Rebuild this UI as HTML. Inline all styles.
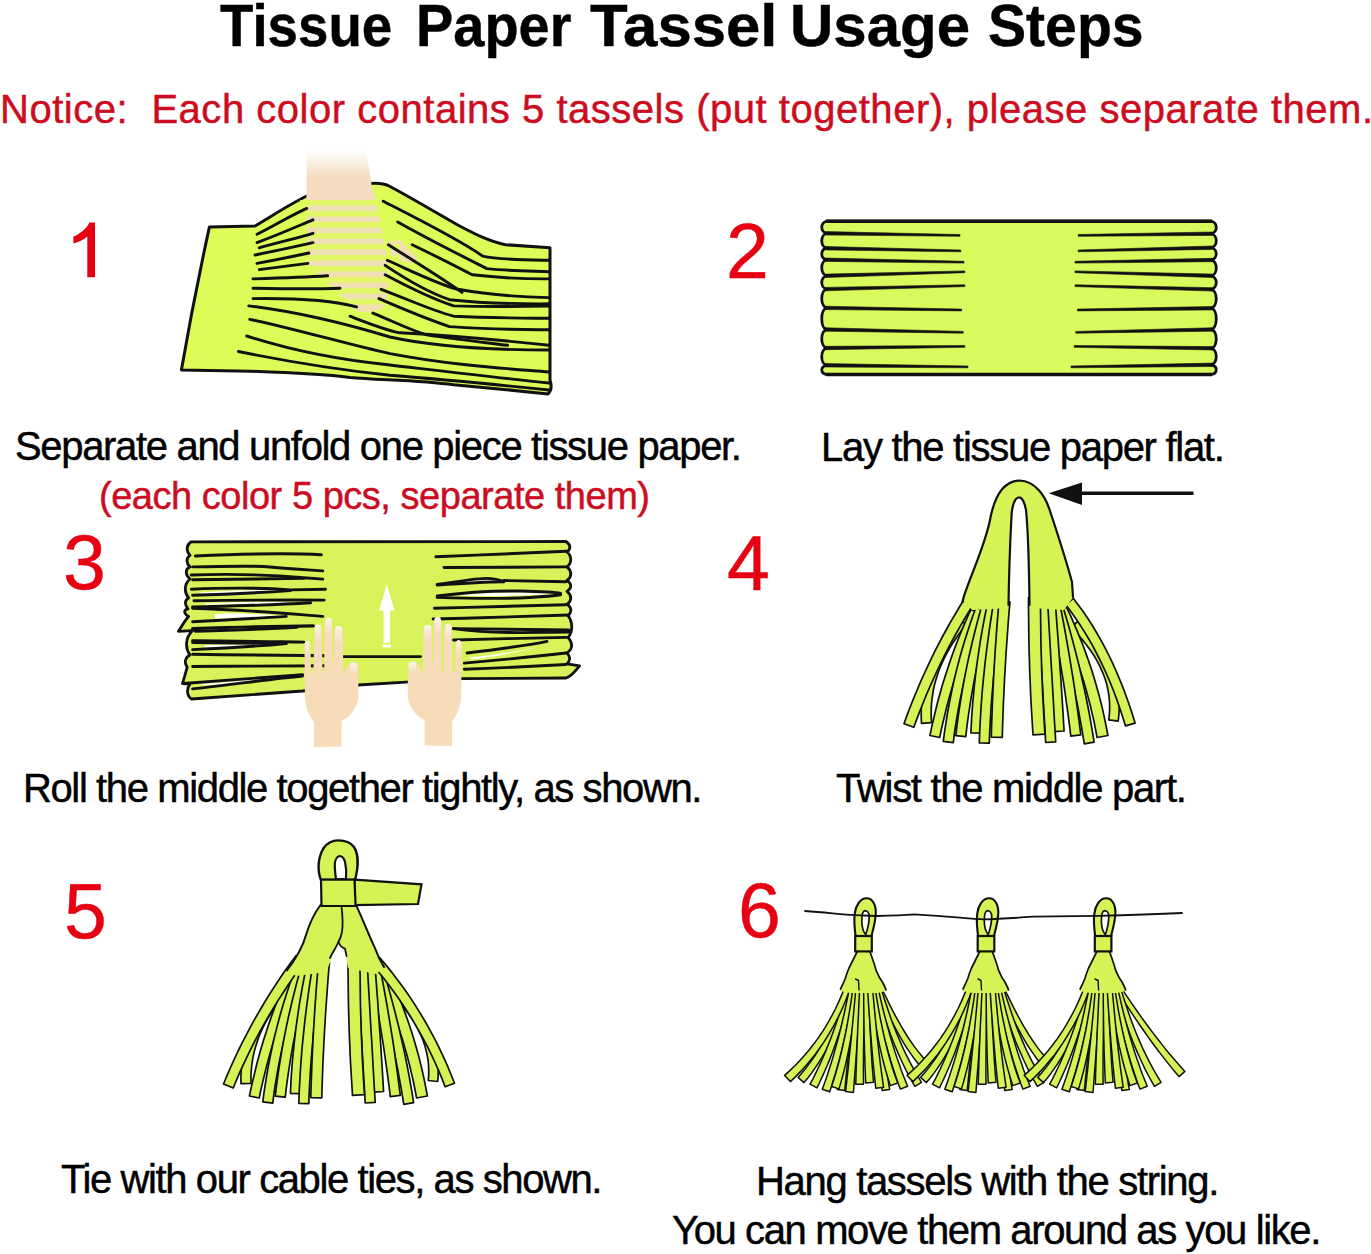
<!DOCTYPE html>
<html><head><meta charset="utf-8"><style>
html,body{margin:0;padding:0;background:#fff;}
body{width:1371px;height:1254px;position:relative;overflow:hidden;font-family:"Liberation Sans",sans-serif;}
.t{position:absolute;white-space:nowrap;line-height:1;-webkit-text-stroke:0.45px currentColor;}
svg{position:absolute;left:0;top:0;}
</style></head><body>
<svg width="1371" height="1254" viewBox="0 0 1371 1254">
<defs><linearGradient id="fg" x1="0" y1="0" x2="0" y2="1"><stop offset="0" stop-color="#f4dcc0" stop-opacity="0"/><stop offset="0.55" stop-color="#f4dcc0" stop-opacity="1"/><stop offset="1" stop-color="#f4dcc0" stop-opacity="1"/></linearGradient></defs>

<path d="M209.4,227.1 L255,226 C272,216 290,204 306.8,196 L371,183.5 C378,183 385,184 389,186 C410,197 440,215 457.8,225 C475,234 490,242 505.5,244.7 L550,247.8 L550,380 C552,386 551,391 548,394 C520,391 480,387 453.7,384.7 C420,380 380,380 350,377.4 C330,375 300,373 250.9,371.2 L181.4,370.1 C190,320 200,270 209.4,227.1 Z" fill="#defc58"/>
<path d="M371,183.5 C378,183 385,184 389,186 C410,197 440,215 457.8,225 C475,234 490,242 505.5,244.7 L550,247.8 L550,380 C552,386 551,391 548,394 C520,391 480,387 453.7,384.7 C420,380 380,380 350,377.4 C330,375 300,373 250.9,371.2 L181.4,370.1 C190,320 200,270 209.4,227.1 L255,226 C272,216 290,204 306.8,196" fill="none" stroke="#111" stroke-width="3" stroke-linejoin="round" stroke-linecap="round"/>
<path d="M306.8,196 L371,184 L376,200 L384,240 L388,262 C390,275 389,295 385,306 C378,312 364,313 356,311 C345,298 330,285 316,272 L306.8,262 Z" fill="#f2dcbc" opacity="0.9"/>
<path d="M306.5 150 L366 150 L371.5 184 L371 200 L306.5 200 Z" fill="url(#fg)"/>
<path d="M387,242 L400,240 L418,259 L410,263 L392,258 Z" fill="#f2dcbc" opacity="0.9"/>
<rect x="300" y="200" width="100" height="5.5" fill="#defc58" opacity="0.85"/>
<rect x="300" y="211" width="100" height="5.5" fill="#defc58" opacity="0.85"/>
<rect x="300" y="222" width="100" height="5.5" fill="#defc58" opacity="0.85"/>
<rect x="300" y="233" width="100" height="5.5" fill="#defc58" opacity="0.85"/>
<rect x="300" y="244" width="100" height="5.5" fill="#defc58" opacity="0.85"/>
<rect x="300" y="255" width="100" height="5.5" fill="#defc58" opacity="0.85"/>
<rect x="300" y="266" width="100" height="5.5" fill="#defc58" opacity="0.85"/>
<rect x="300" y="277" width="100" height="5.5" fill="#defc58" opacity="0.85"/>
<rect x="300" y="288" width="100" height="5.5" fill="#defc58" opacity="0.85"/>
<rect x="300" y="299" width="100" height="5.5" fill="#defc58" opacity="0.85"/>
<path d="M257,234.3 C275,225 292,215 306.8,208.4" fill="none" stroke="#111" stroke-width="2.9" stroke-linecap="round"/>
<path d="M257,242.6 C280,234 298,226 313,219.8" fill="none" stroke="#111" stroke-width="2.9" stroke-linecap="round"/>
<path d="M259.2,247.8 C280,242 298,238 313,233.3" fill="none" stroke="#111" stroke-width="2.9" stroke-linecap="round"/>
<path d="M255,255 C280,250 298,246 313,242.6" fill="none" stroke="#111" stroke-width="2.9" stroke-linecap="round"/>
<path d="M257,263.4 C280,259 295,256 308.9,253" fill="none" stroke="#111" stroke-width="2.9" stroke-linecap="round"/>
<path d="M259.2,269.6 C280,267 295,265 307.9,263.4" fill="none" stroke="#111" stroke-width="2.9" stroke-linecap="round"/>
<path d="M253,278.9 C285,278 310,277 327.6,275.8" fill="none" stroke="#111" stroke-width="2.9" stroke-linecap="round"/>
<path d="M253,288.2 C290,289 320,289 340,288.2" fill="none" stroke="#111" stroke-width="2.9" stroke-linecap="round"/>
<path d="M253,298.6 C300,298 335,301 356.6,306.9" fill="none" stroke="#111" stroke-width="2.9" stroke-linecap="round"/>
<path d="M248.8,305.9 C300,312 350,325 390,337 C440,348 500,350 549,350" fill="none" stroke="#111" stroke-width="2.9" stroke-linecap="round"/>
<path d="M249.8,319.3 C300,330 350,345 390,353.6 C450,365 500,368 549,372" fill="none" stroke="#111" stroke-width="2.9" stroke-linecap="round"/>
<path d="M246.7,336 C290,350 340,360 390,365 C450,372 500,378 549,383" fill="none" stroke="#111" stroke-width="2.9" stroke-linecap="round"/>
<path d="M238.4,351.5 C290,362 340,370 390,375.3 C450,380 500,385 549,390" fill="none" stroke="#111" stroke-width="2.9" stroke-linecap="round"/>
<path d="M383.2,201.2 C420,220 460,240 482.7,256.1 C500,260 530,260 549,260.3" fill="none" stroke="#111" stroke-width="2.9" stroke-linecap="round"/>
<path d="M397.7,221.9 C430,240 460,255 486.8,268.6 C510,271 530,271 549,271.7" fill="none" stroke="#111" stroke-width="2.9" stroke-linecap="round"/>
<path d="M412.2,244.7 C440,258 455,266 472.3,274.8 C500,278 530,279 549,278.9" fill="none" stroke="#111" stroke-width="2.9" stroke-linecap="round"/>
<path d="M388.4,244.7 C420,265 445,280 462,292.4" fill="none" stroke="#111" stroke-width="2.9" stroke-linecap="round"/>
<path d="M387.3,260.3 C420,275 440,285 457.8,289.3 C490,295 520,297 549,297.6" fill="none" stroke="#111" stroke-width="2.9" stroke-linecap="round"/>
<path d="M385.2,265.4 C410,282 430,293 449.5,299.7 C490,304 520,304 549,303.8" fill="none" stroke="#111" stroke-width="2.9" stroke-linecap="round"/>
<path d="M385.2,274.8 C410,288 435,300 453.7,305.9 C490,307 520,306.5 549,306" fill="none" stroke="#111" stroke-width="2.9" stroke-linecap="round"/>
<path d="M381.1,289.3 C410,300 430,310 453.7,316.2 C490,318 520,318 549,318.3" fill="none" stroke="#111" stroke-width="2.9" stroke-linecap="round"/>
<path d="M379,298.6 C410,312 430,320 449.5,326.6 C490,329 520,330 549,329.7" fill="none" stroke="#111" stroke-width="2.9" stroke-linecap="round"/>
<path d="M372.8,313.1 C395,322 410,330 426.7,334.9 C460,340 490,343 507.6,345.3" fill="none" stroke="#111" stroke-width="2.9" stroke-linecap="round"/>
<path d="M350,316.2 C365,322 385,330 399.8,332.8 C440,335 500,340 549,345.3" fill="none" stroke="#111" stroke-width="2.9" stroke-linecap="round"/>
<path d="M827,221.2 L1211,221.2 C1218,222.2 1218,232.7 1211,233.7 C1218,234.7 1218,246.7 1211,247.7 C1218,248.7 1218,259.0 1211,260.0 C1218,261.0 1218,274.8 1211,275.8 C1218,276.8 1218,288.4 1211,289.4 C1218,290.4 1218,307.2 1211,308.2 C1218,309.2 1218,328.5 1211,329.5 C1218,330.5 1218,347.3 1211,348.3 C1218,349.3 1218,363.8 1211,364.8 C1218,365.8 1218,373.5 1211,374.5 L827,374.5 C820,373.5 820,366.3 827,365.3 C820,364.3 820,349.0 827,348.0 C820,347.0 820,330.5 827,329.5 C820,328.5 820,308.9 827,307.9 C820,306.9 820,290.1 827,289.1 C820,288.1 820,276.8 827,275.8 C820,274.8 820,260.7 827,259.7 C820,258.7 820,249.2 827,248.2 C820,247.2 820,234.3 827,233.3 C820,232.3 820,222.2 827,221.2 Z" fill="#d9fa5c" stroke="#111" stroke-width="2.8" stroke-linejoin="round"/>
<path d="M826.0,235.0 L960.0,236.3 L960.0,234.5 L826.0,231.6 Z" fill="#111" stroke="#111" stroke-width="0.6" stroke-linejoin="round"/>
<path d="M826.0,249.9 L960.8,251.8 L960.8,250.0 L826.0,246.5 Z" fill="#111" stroke="#111" stroke-width="0.6" stroke-linejoin="round"/>
<path d="M826.0,261.4 L964.0,263.1 L964.0,261.3 L826.0,258.0 Z" fill="#111" stroke="#111" stroke-width="0.6" stroke-linejoin="round"/>
<path d="M826.0,277.5 L964.8,272.7 L964.8,270.9 L826.0,274.1 Z" fill="#111" stroke="#111" stroke-width="0.6" stroke-linejoin="round"/>
<path d="M826.0,290.8 L964.8,286.6 L964.8,284.8 L826.0,287.4 Z" fill="#111" stroke="#111" stroke-width="0.6" stroke-linejoin="round"/>
<path d="M826.0,309.6 L961.6,310.9 L961.6,309.1 L826.0,306.2 Z" fill="#111" stroke="#111" stroke-width="0.6" stroke-linejoin="round"/>
<path d="M826.0,331.2 L963.2,333.2 L963.2,331.4 L826.0,327.8 Z" fill="#111" stroke="#111" stroke-width="0.6" stroke-linejoin="round"/>
<path d="M826.0,349.7 L964.8,347.3 L964.8,345.5 L826.0,346.3 Z" fill="#111" stroke="#111" stroke-width="0.6" stroke-linejoin="round"/>
<path d="M826.0,367.0 L968.0,367.8 L968.0,366.0 L826.0,363.6 Z" fill="#111" stroke="#111" stroke-width="0.6" stroke-linejoin="round"/>
<path d="M1212.0,232.0 L1078.2,234.5 L1078.2,236.3 L1212.0,235.4 Z" fill="#111" stroke="#111" stroke-width="0.6" stroke-linejoin="round"/>
<path d="M1212.0,246.0 L1078.2,250.0 L1078.2,251.8 L1212.0,249.4 Z" fill="#111" stroke="#111" stroke-width="0.6" stroke-linejoin="round"/>
<path d="M1212.0,258.3 L1075.0,261.3 L1075.0,263.1 L1212.0,261.7 Z" fill="#111" stroke="#111" stroke-width="0.6" stroke-linejoin="round"/>
<path d="M1212.0,274.1 L1075.0,270.9 L1075.0,272.7 L1212.0,277.5 Z" fill="#111" stroke="#111" stroke-width="0.6" stroke-linejoin="round"/>
<path d="M1212.0,287.7 L1075.0,284.8 L1075.0,286.6 L1212.0,291.1 Z" fill="#111" stroke="#111" stroke-width="0.6" stroke-linejoin="round"/>
<path d="M1212.0,306.5 L1077.4,309.1 L1077.4,310.9 L1212.0,309.9 Z" fill="#111" stroke="#111" stroke-width="0.6" stroke-linejoin="round"/>
<path d="M1212.0,327.8 L1075.8,331.4 L1075.8,333.2 L1212.0,331.2 Z" fill="#111" stroke="#111" stroke-width="0.6" stroke-linejoin="round"/>
<path d="M1212.0,346.6 L1074.2,345.5 L1074.2,347.3 L1212.0,350.0 Z" fill="#111" stroke="#111" stroke-width="0.6" stroke-linejoin="round"/>
<path d="M1212.0,363.1 L1071.0,366.0 L1071.0,367.8 L1212.0,366.5 Z" fill="#111" stroke="#111" stroke-width="0.6" stroke-linejoin="round"/>
<path d="M826,221.2 L1212,221.2 M826,374.5 L1212,374.5" stroke="#111" stroke-width="3.6"/><defs><linearGradient id="tipg" x1="0" y1="0" x2="0" y2="1"><stop offset="0" stop-color="#fff" stop-opacity="0.7"/><stop offset="1" stop-color="#fff" stop-opacity="0"/></linearGradient></defs>
<path d="M191.3,541.8 L566,541.5 C571,545 571,549 567,552 C572,556 572,563 567,566.9 C572,571 572,577 567,580.4 C572,584 572,588 567,591.3 C572,595 572,601 567,604.2 C572,608 572,612 568,615.7 C573,622 573,632 568,637.4 C573,643 573,649 567,653 C571,657 570,661 567,663.8 L579.6,665.8 C576,670 572,676 566,678 L461.6,678.7 L405.9,682.2 L358,685 L302.5,691 L191.3,699 C186,695 187,688 189.9,684.2 L182.5,683.5 C184,678 186,672 187.2,667.2 C184,663 185,657 190,655 C185,648 185,638 192.6,630.6 L178.4,631.3 C182,626 185,620 188.6,616.4 C184,614 183,610 188,608.9 C184,604 185,600 188.6,598 C184,592 184,584 190,579 C185,575 185,569 190,566.9 C186,563 186,558 190,555.3 C186,551 186,545 191.3,541.8 Z" fill="#d8f25a" stroke="#111" stroke-width="2.8" stroke-linejoin="round"/>
<path d="M195.3,556 C240,554 290,553 321.4,554.7" fill="none" stroke="#111" stroke-width="2.9" stroke-linecap="round" stroke-linejoin="round"/>
<path d="M192.6,566.9 C230,566 260,566 270,567 C290,569 310,570 322.8,570.9" fill="none" stroke="#111" stroke-width="2.9" stroke-linecap="round" stroke-linejoin="round"/>
<path d="M191.3,575 C220,574 256,573.6 303.8,577.7 L322.8,579.1" fill="none" stroke="#111" stroke-width="2.9" stroke-linecap="round" stroke-linejoin="round"/>
<path d="M192.6,579.7 C240,579 280,578.8 303.8,578.4" fill="none" stroke="#111" stroke-width="2.9" stroke-linecap="round" stroke-linejoin="round"/>
<path d="M200,592.5 C240,590 270,589.5 288,590.3 C270,592 240,593.5 200,593.8 Z" fill="#ffffff" stroke="none"/>
<path d="M191.3,589.2 C220,588 256,587.2 290.3,589.9 L325.5,589.2" fill="none" stroke="#111" stroke-width="2.9" stroke-linecap="round" stroke-linejoin="round"/>
<path d="M192.6,595.3 C240,594 270,592 290.3,590.6" fill="none" stroke="#111" stroke-width="2.9" stroke-linecap="round" stroke-linejoin="round"/>
<path d="M205,603.5 C240,602 280,601.5 305,602 C270,603.5 240,604.5 205,604.8 Z" fill="#ffffff" stroke="none"/>
<path d="M194,600.8 C240,600 290,600 324.2,600.1" fill="none" stroke="#111" stroke-width="2.9" stroke-linecap="round" stroke-linejoin="round"/>
<path d="M192.6,606.9 C230,606 270,605.5 310.6,602.8" fill="none" stroke="#111" stroke-width="2.9" stroke-linecap="round" stroke-linejoin="round"/>
<path d="M215,614 C240,613 265,614 283,616 C260,617.5 240,618.5 215,618.5 Z" fill="#ffffff" stroke="none"/>
<path d="M192.6,608.2 C220,609 256,610.9 322.8,616.4" fill="none" stroke="#111" stroke-width="2.9" stroke-linecap="round" stroke-linejoin="round"/>
<path d="M192.6,621.8 C230,620 260,618 286.2,616.4" fill="none" stroke="#111" stroke-width="2.9" stroke-linecap="round" stroke-linejoin="round"/>
<path d="M192.6,628.6 C240,627 290,626 313.3,625.8" fill="none" stroke="#111" stroke-width="3.2" stroke-linecap="round" stroke-linejoin="round"/>
<path d="M195.3,631.3 C240,630 270,629 297,627.2" fill="none" stroke="#111" stroke-width="2.9" stroke-linecap="round" stroke-linejoin="round"/>
<path d="M192.6,640.8 C240,641 290,642 303.8,642.1" fill="none" stroke="#111" stroke-width="2.9" stroke-linecap="round" stroke-linejoin="round"/>
<path d="M205,645 C240,644.5 265,644.5 282,644 C260,646 240,647 205,647.5 Z" fill="#ffffff" stroke="none"/>
<path d="M192.6,642.5 C230,643 260,643 286.2,643.5" fill="none" stroke="#111" stroke-width="2.9" stroke-linecap="round" stroke-linejoin="round"/>
<path d="M192.6,649.6 C230,648 260,646 286.2,643.5" fill="none" stroke="#111" stroke-width="2.9" stroke-linecap="round" stroke-linejoin="round"/>
<path d="M192.6,654.3 C240,655 290,655.5 330,655.7" fill="none" stroke="#111" stroke-width="2.9" stroke-linecap="round" stroke-linejoin="round"/>
<path d="M192.6,666.5 C240,666 290,666 330,665.8" fill="none" stroke="#111" stroke-width="2.9" stroke-linecap="round" stroke-linejoin="round"/>
<path d="M200,684 C240,681 270,678 298,676 C270,679.5 240,682.5 205,685.5 Z" fill="#ffffff" stroke="none"/>
<path d="M183.1,683.5 C230,680 270,677 302.5,674.7" fill="none" stroke="#111" stroke-width="2.9" stroke-linecap="round" stroke-linejoin="round"/>
<path d="M192.6,688.9 C230,685 270,679 302.5,676" fill="none" stroke="#111" stroke-width="2.9" stroke-linecap="round" stroke-linejoin="round"/>
<path d="M342,656.6 L420.5,656.6" fill="none" stroke="#111" stroke-width="2.9" stroke-linecap="round" stroke-linejoin="round"/>
<path d="M435.8,556.7 C480,555 530,553 566,551.3" fill="none" stroke="#111" stroke-width="2.9" stroke-linecap="round" stroke-linejoin="round"/>
<path d="M444,567.5 C480,567.4 530,567.2 566,566.9" fill="none" stroke="#111" stroke-width="2.9" stroke-linecap="round" stroke-linejoin="round"/>
<path d="M450,582.5 C470,580 490,579.5 500,580.8 C485,581.5 465,582.5 450,583.2 Z" fill="#ffffff" stroke="none"/>
<path d="M437.2,584.5 C460,581 480,578.4 486,578.4 C495,578.4 500,580 503.6,581.8" fill="none" stroke="#111" stroke-width="2.9" stroke-linecap="round" stroke-linejoin="round"/>
<path d="M437.2,585 C460,583.5 490,582 503.6,581.8" fill="none" stroke="#111" stroke-width="2.9" stroke-linecap="round" stroke-linejoin="round"/>
<path d="M503.6,580.5 C530,581 550,581.5 566,581.8" fill="none" stroke="#111" stroke-width="2.9" stroke-linecap="round" stroke-linejoin="round"/>
<path d="M460,594.5 C490,592 530,592 556,593.8 C530,595.5 490,596.5 460,595.5 Z" fill="#ffffff" stroke="none"/>
<path d="M437.2,596 C460,593 492.8,590.6 520,591 C540,591.5 555,592 560.6,593.3" fill="none" stroke="#111" stroke-width="2.9" stroke-linecap="round" stroke-linejoin="round"/>
<path d="M437.2,597.4 C470,598.5 506.4,598.7 530,597.5 C545,596.5 555,595.5 560.6,594.7" fill="none" stroke="#111" stroke-width="2.9" stroke-linecap="round" stroke-linejoin="round"/>
<path d="M434.5,608.2 C480,607 530,606 566,604.8" fill="none" stroke="#111" stroke-width="2.9" stroke-linecap="round" stroke-linejoin="round"/>
<path d="M433.1,619 C480,618 530,616.5 568.7,615" fill="none" stroke="#111" stroke-width="2.9" stroke-linecap="round" stroke-linejoin="round"/>
<path d="M480,630 C510,630.5 540,630.8 565,631 C540,631.3 510,631.5 480,631 Z" fill="#ffffff" stroke="none"/>
<path d="M453.5,628.6 C500,629 540,629.5 568.7,630" fill="none" stroke="#111" stroke-width="2.9" stroke-linecap="round" stroke-linejoin="round"/>
<path d="M453.5,628.6 C470,631 492.8,632.6 520,632.6 C540,632.5 560,632.2 568.7,632" fill="none" stroke="#111" stroke-width="2.9" stroke-linecap="round" stroke-linejoin="round"/>
<path d="M453.5,640 C490,639 530,638 566,637.4" fill="none" stroke="#111" stroke-width="2.9" stroke-linecap="round" stroke-linejoin="round"/>
<path d="M470,657.5 C500,654 525,650.5 540,646 C520,652 495,657 470,659.5 Z" fill="#ffffff" stroke="none"/>
<path d="M467,653 C500,649 530,645 547,641.4" fill="none" stroke="#111" stroke-width="2.9" stroke-linecap="round" stroke-linejoin="round"/>
<path d="M464.3,663.1 C500,660 540,656 566,653" fill="none" stroke="#111" stroke-width="2.9" stroke-linecap="round" stroke-linejoin="round"/>
<path d="M464.3,669.2 C500,668 540,666 566,664.5" fill="none" stroke="#111" stroke-width="2.9" stroke-linecap="round" stroke-linejoin="round"/>
<g>
<path d="M314,747 L314,722 C309,716 306,708 305,699 L304.4,647 C304.4,643 306,641 307.5,641 C309.5,641 310.5,643 310.5,647 L311,673 L313.5,673 L314.2,631 C314.5,627 316,624.5 318,624.5 C320.5,624.5 321.8,627 321.8,631 L322.5,673 L324.2,673 L324.5,624 C324.8,620 326.5,617.7 328.2,617.7 C330.5,617.7 332.4,620 332.4,624 L333,662 L334,662 L334.2,632 C334.5,628 336.5,626 338.5,626 C341,626 343,628 343,632 L343.2,676 C345,670 347,666 349.5,663.5 C351.5,662 355,662 357,664 C358.5,666 358.3,668 358.3,670 L358.3,699 C356,708 352,716 341.5,721 L341.5,746.5 Z" fill="#f6dcb8"/>
<rect x="305.2" y="641" width="4.5" height="16" rx="2.5" fill="url(#tipg)"/>
<rect x="315" y="624.5" width="6" height="18" rx="2.5" fill="url(#tipg)"/>
<rect x="325.3" y="617.7" width="6.3" height="18" rx="2.5" fill="url(#tipg)"/>
<rect x="335" y="626" width="7" height="18" rx="2.5" fill="url(#tipg)"/>
<rect x="350" y="662.5" width="7.5" height="12" rx="2.5" fill="url(#tipg)"/>
</g>
<g transform="translate(766.15,-1) scale(-1,1)">
<path d="M314,747 L314,722 C309,716 306,708 305,699 L304.4,647 C304.4,643 306,641 307.5,641 C309.5,641 310.5,643 310.5,647 L311,673 L313.5,673 L314.2,631 C314.5,627 316,624.5 318,624.5 C320.5,624.5 321.8,627 321.8,631 L322.5,673 L324.2,673 L324.5,624 C324.8,620 326.5,617.7 328.2,617.7 C330.5,617.7 332.4,620 332.4,624 L333,662 L334,662 L334.2,632 C334.5,628 336.5,626 338.5,626 C341,626 343,628 343,632 L343.2,676 C345,670 347,666 349.5,663.5 C351.5,662 355,662 357,664 C358.5,666 358.3,668 358.3,670 L358.3,699 C356,708 352,716 341.5,721 L341.5,746.5 Z" fill="#f6dcb8"/>
<rect x="305.2" y="641" width="4.5" height="16" rx="2.5" fill="url(#tipg)"/>
<rect x="315" y="624.5" width="6" height="18" rx="2.5" fill="url(#tipg)"/>
<rect x="325.3" y="617.7" width="6.3" height="18" rx="2.5" fill="url(#tipg)"/>
<rect x="335" y="626" width="7" height="18" rx="2.5" fill="url(#tipg)"/>
<rect x="350" y="662.5" width="7.5" height="12" rx="2.5" fill="url(#tipg)"/>
</g>
<path d="M386.8,584.1 L394.7,610.7 C392,610 391,610.5 390.1,611 L390.1,642.8 L383.5,642.8 L383.5,611 C382.5,610.5 381.5,610 379.1,610.7 Z" fill="#fff"/>
<rect x="382.8" y="644.6" width="8.2" height="2.8" fill="#fff"/><path d="M958.7,618.3 L953.7,624.5 L949.1,630.7 L944.8,637.0 L940.9,643.3 L937.4,649.7 L934.2,656.1 L931.3,662.6 L928.8,669.2 L926.6,675.8 L924.8,682.5 L923.4,689.2 L922.3,695.9 L921.6,702.7 L921.2,709.6 L921.2,716.5 L921.5,723.4 L931.5,722.6 L931.2,716.2 L931.2,709.9 L931.5,703.5 L932.2,697.3 L933.2,691.0 L934.5,684.8 L936.2,678.7 L938.2,672.5 L940.5,666.5 L943.2,660.4 L946.2,654.4 L949.6,648.4 L953.2,642.4 L957.3,636.5 L961.6,630.6 L966.3,624.7 Z" fill="#d6f355" stroke="#111" stroke-width="1.7" stroke-linejoin="round"/>
<path d="M1071.2,627.9 L1076.6,633.4 L1081.6,638.9 L1086.1,644.5 L1090.3,650.1 L1094.1,655.7 L1097.4,661.4 L1100.3,667.1 L1102.8,672.8 L1105.0,678.5 L1106.7,684.3 L1108.0,690.1 L1109.0,696.0 L1109.5,701.9 L1109.7,707.8 L1109.4,713.8 L1108.8,719.9 L1118.2,721.1 L1118.9,714.5 L1119.2,707.9 L1119.0,701.3 L1118.4,694.8 L1117.4,688.3 L1115.9,681.9 L1114.0,675.5 L1111.7,669.2 L1108.9,663.0 L1105.7,656.8 L1102.1,650.7 L1098.1,644.6 L1093.6,638.7 L1088.8,632.7 L1083.5,626.9 L1077.8,621.1 Z" fill="#d6f355" stroke="#111" stroke-width="1.7" stroke-linejoin="round"/>
<path d="M971.0,609.4 L967.6,616.7 L964.4,624.2 L961.2,631.7 L958.2,639.2 L955.2,646.9 L952.4,654.6 L949.7,662.4 L947.1,670.2 L944.6,678.1 L942.1,686.1 L939.8,694.2 L937.6,702.3 L935.6,710.5 L933.6,718.8 L931.7,727.1 L929.9,735.5 L939.7,737.5 L941.4,729.2 L943.3,721.0 L945.3,712.9 L947.3,704.8 L949.5,696.8 L951.7,688.9 L954.1,681.1 L956.6,673.3 L959.2,665.6 L961.8,658.0 L964.6,650.4 L967.5,642.9 L970.5,635.5 L973.6,628.1 L976.7,620.8 L980.0,613.6 Z" fill="#d6f355" stroke="#111" stroke-width="1.7" stroke-linejoin="round"/>
<path d="M975.8,607.8 L972.8,616.0 L970.0,624.2 L967.3,632.4 L964.7,640.7 L962.2,649.0 L959.9,657.3 L957.7,665.6 L955.6,673.9 L953.6,682.3 L951.8,690.7 L950.1,699.1 L948.5,707.5 L947.0,716.0 L945.7,724.4 L944.4,732.9 L943.3,741.4 L953.3,742.6 L954.3,734.2 L955.5,725.9 L956.9,717.6 L958.3,709.3 L959.9,701.0 L961.6,692.8 L963.4,684.5 L965.3,676.3 L967.4,668.1 L969.5,659.9 L971.8,651.8 L974.3,643.6 L976.8,635.5 L979.5,627.4 L982.3,619.3 L985.2,611.2 Z" fill="#d6f355" stroke="#111" stroke-width="1.7" stroke-linejoin="round"/>
<path d="M981.7,606.1 L979.4,614.5 L977.1,622.9 L975.0,631.2 L972.9,639.5 L971.0,647.7 L969.1,655.9 L967.3,664.1 L965.7,672.2 L964.1,680.3 L962.6,688.3 L961.3,696.3 L960.0,704.3 L958.8,712.2 L957.7,720.0 L956.7,727.9 L955.8,735.7 L965.8,736.7 L966.6,729.1 L967.6,721.3 L968.7,713.6 L969.9,705.8 L971.1,697.9 L972.5,690.1 L973.9,682.1 L975.5,674.2 L977.1,666.1 L978.9,658.1 L980.7,650.0 L982.6,641.8 L984.7,633.7 L986.8,625.4 L989.0,617.2 L991.3,608.9 Z" fill="#d6f355" stroke="#111" stroke-width="1.7" stroke-linejoin="round"/>
<path d="M1056.5,611.9 L1060.1,619.3 L1063.5,626.8 L1066.7,634.4 L1069.8,642.0 L1072.8,649.6 L1075.7,657.4 L1078.4,665.1 L1081.0,672.9 L1083.5,680.8 L1085.8,688.7 L1088.0,696.7 L1090.1,704.8 L1092.0,712.9 L1093.9,721.0 L1095.5,729.2 L1097.1,737.5 L1107.9,735.5 L1106.3,727.1 L1104.6,718.7 L1102.8,710.4 L1100.8,702.1 L1098.7,693.9 L1096.4,685.7 L1094.0,677.6 L1091.5,669.6 L1088.8,661.6 L1086.0,653.6 L1083.1,645.7 L1080.0,637.9 L1076.8,630.1 L1073.5,622.4 L1070.1,614.7 L1066.5,607.1 Z" fill="#d6f355" stroke="#111" stroke-width="1.7" stroke-linejoin="round"/>
<path d="M1053.7,611.0 L1056.2,619.1 L1058.5,627.2 L1060.9,635.3 L1063.1,643.5 L1065.3,651.7 L1067.3,660.0 L1069.4,668.2 L1071.3,676.5 L1073.2,684.8 L1075.0,693.2 L1076.7,701.5 L1078.4,709.9 L1079.9,718.3 L1081.5,726.8 L1082.9,735.3 L1084.3,743.8 L1094.1,742.2 L1092.8,733.6 L1091.3,725.1 L1089.8,716.5 L1088.2,708.0 L1086.5,699.5 L1084.8,691.1 L1082.9,682.7 L1081.0,674.3 L1079.1,665.9 L1077.0,657.5 L1074.9,649.2 L1072.7,640.9 L1070.5,632.7 L1068.2,624.4 L1065.8,616.2 L1063.3,608.0 Z" fill="#d6f355" stroke="#111" stroke-width="1.7" stroke-linejoin="round"/>
<path d="M1050.6,608.5 L1052.2,616.8 L1053.7,625.1 L1055.3,633.3 L1056.7,641.5 L1058.1,649.6 L1059.5,657.7 L1060.8,665.8 L1062.1,673.8 L1063.4,681.7 L1064.6,689.6 L1065.7,697.5 L1066.8,705.3 L1067.9,713.1 L1068.9,720.8 L1069.9,728.5 L1070.8,736.1 L1080.8,734.9 L1079.8,727.2 L1078.8,719.5 L1077.8,711.7 L1076.7,703.9 L1075.6,696.1 L1074.5,688.2 L1073.3,680.2 L1072.0,672.2 L1070.7,664.2 L1069.4,656.1 L1068.0,647.9 L1066.6,639.8 L1065.1,631.5 L1063.6,623.2 L1062.0,614.9 L1060.4,606.5 Z" fill="#d6f355" stroke="#111" stroke-width="1.7" stroke-linejoin="round"/>
<path d="M1045.5,605.9 L1046.1,613.9 L1046.7,621.8 L1047.3,629.8 L1047.9,637.7 L1048.5,645.6 L1049.1,653.5 L1049.6,661.4 L1050.2,669.3 L1050.7,677.1 L1051.2,685.0 L1051.7,692.8 L1052.2,700.6 L1052.7,708.4 L1053.2,716.1 L1053.7,723.9 L1054.1,731.6 L1064.1,731.0 L1063.6,723.3 L1063.2,715.5 L1062.7,707.7 L1062.2,699.9 L1061.7,692.1 L1061.2,684.3 L1060.7,676.5 L1060.1,668.6 L1059.6,660.7 L1059.0,652.8 L1058.5,644.9 L1057.9,637.0 L1057.3,629.1 L1056.7,621.1 L1056.1,613.1 L1055.5,605.1 Z" fill="#d6f355" stroke="#111" stroke-width="1.7" stroke-linejoin="round"/>
<path d="M987.6,602.5 L985.9,610.8 L984.3,619.0 L982.7,627.3 L981.3,635.5 L979.9,643.7 L978.7,651.9 L977.5,660.1 L976.4,668.2 L975.4,676.4 L974.5,684.5 L973.7,692.6 L972.9,700.7 L972.3,708.7 L971.7,716.8 L971.3,724.8 L970.9,732.8 L980.9,733.2 L981.3,725.3 L981.7,717.4 L982.3,709.5 L982.9,701.5 L983.6,693.5 L984.4,685.6 L985.3,677.5 L986.3,669.5 L987.4,661.5 L988.5,653.4 L989.8,645.3 L991.1,637.2 L992.6,629.1 L994.1,620.9 L995.7,612.7 L997.4,604.5 Z" fill="#d6f355" stroke="#111" stroke-width="1.7" stroke-linejoin="round"/>
<path d="M993.6,602.7 L992.1,611.6 L990.7,620.5 L989.4,629.3 L988.2,638.2 L987.0,647.0 L985.9,655.8 L984.9,664.6 L984.0,673.4 L983.1,682.1 L982.3,690.9 L981.6,699.6 L981.0,708.3 L980.5,716.9 L980.0,725.6 L979.6,734.2 L979.3,742.8 L989.3,743.2 L989.6,734.6 L990.0,726.1 L990.5,717.5 L991.0,708.9 L991.6,700.3 L992.3,691.7 L993.1,683.0 L993.9,674.4 L994.8,665.7 L995.8,657.0 L996.9,648.3 L998.1,639.5 L999.3,630.8 L1000.6,622.0 L1002.0,613.2 L1003.4,604.3 Z" fill="#d6f355" stroke="#111" stroke-width="1.7" stroke-linejoin="round"/>
<path d="M999.0,601.0 L998.3,609.5 L997.6,618.1 L996.9,626.6 L996.3,635.1 L995.7,643.6 L995.1,652.1 L994.6,660.6 L994.1,669.1 L993.6,677.6 L993.2,686.1 L992.8,694.6 L992.4,703.1 L992.1,711.6 L991.8,720.1 L991.5,728.6 L991.3,737.1 L1002.3,737.3 L1002.5,728.9 L1002.8,720.5 L1003.1,712.0 L1003.4,703.6 L1003.8,695.1 L1004.2,686.7 L1004.6,678.2 L1005.1,669.7 L1005.6,661.3 L1006.1,652.8 L1006.7,644.3 L1007.3,635.9 L1007.9,627.4 L1008.5,618.9 L1009.2,610.5 L1010.0,602.0 Z" fill="#d6f355" stroke="#111" stroke-width="1.7" stroke-linejoin="round"/>
<path d="M1037.5,599.8 L1038.0,608.5 L1038.5,617.3 L1039.0,626.1 L1039.5,635.0 L1040.0,643.8 L1040.5,652.7 L1041.0,661.6 L1041.6,670.5 L1042.1,679.4 L1042.6,688.3 L1043.1,697.3 L1043.6,706.3 L1044.1,715.3 L1044.7,724.4 L1045.2,733.4 L1045.7,742.5 L1055.7,741.9 L1055.2,732.8 L1054.6,723.8 L1054.1,714.7 L1053.6,705.7 L1053.1,696.7 L1052.6,687.8 L1052.1,678.8 L1051.5,669.9 L1051.0,661.0 L1050.5,652.1 L1050.0,643.2 L1049.5,634.4 L1049.0,625.6 L1048.5,616.8 L1048.0,608.0 L1047.5,599.2 Z" fill="#d6f355" stroke="#111" stroke-width="1.7" stroke-linejoin="round"/>
<path d="M1028.5,597.5 L1028.5,606.5 L1028.6,615.4 L1028.7,624.3 L1028.8,633.2 L1028.9,641.9 L1029.1,650.7 L1029.4,659.3 L1029.6,667.9 L1029.9,676.5 L1030.3,685.0 L1030.6,693.5 L1031.0,701.9 L1031.5,710.2 L1032.0,718.5 L1032.5,726.7 L1033.0,734.9 L1045.0,734.1 L1044.4,726.0 L1043.9,717.8 L1043.5,709.5 L1043.0,701.3 L1042.6,692.9 L1042.3,684.5 L1041.9,676.1 L1041.6,667.6 L1041.4,659.0 L1041.1,650.4 L1040.9,641.7 L1040.8,633.0 L1040.7,624.2 L1040.6,615.3 L1040.5,606.4 L1040.5,597.5 Z" fill="#d6f355" stroke="#111" stroke-width="1.7" stroke-linejoin="round"/>
<path d="M964.6,598.7 L960.0,606.0 L955.6,613.5 L951.2,620.9 L947.0,628.5 L942.8,636.0 L938.8,643.7 L934.8,651.4 L931.0,659.2 L927.3,667.1 L923.6,675.0 L920.1,682.9 L916.7,691.0 L913.3,699.1 L910.1,707.2 L907.0,715.4 L904.0,723.7 L913.8,727.3 L916.8,719.1 L919.9,711.0 L923.1,703.0 L926.3,695.0 L929.7,687.1 L933.2,679.3 L936.8,671.5 L940.4,663.8 L944.2,656.1 L948.1,648.5 L952.1,641.0 L956.1,633.5 L960.3,626.1 L964.6,618.8 L969.0,611.5 L973.4,604.3 Z" fill="#d6f355" stroke="#111" stroke-width="1.7" stroke-linejoin="round"/>
<path d="M1065.6,604.6 L1070.3,610.8 L1074.9,617.2 L1079.3,623.8 L1083.7,630.6 L1087.9,637.5 L1092.0,644.7 L1095.9,652.0 L1099.7,659.5 L1103.4,667.1 L1107.0,675.0 L1110.4,683.0 L1113.7,691.2 L1116.8,699.6 L1119.8,708.2 L1122.7,717.0 L1125.5,725.9 L1135.1,723.1 L1132.3,713.9 L1129.3,705.0 L1126.2,696.2 L1123.0,687.6 L1119.6,679.2 L1116.1,671.0 L1112.5,662.9 L1108.7,655.0 L1104.8,647.3 L1100.7,639.8 L1096.5,632.5 L1092.2,625.3 L1087.7,618.3 L1083.1,611.5 L1078.3,604.9 L1073.4,598.4 Z" fill="#d6f355" stroke="#111" stroke-width="1.7" stroke-linejoin="round"/>
<path d="M962,598 C972,572 985,545 990,520 C994,498 1003,481 1019.5,480.5 C1036,481 1045,497 1049,508 C1058,535 1066,560 1072,582 L1074,596 L1064,610 L1030,608 C1029,560 1028,530 1026,510 C1024,500 1021,497 1018.5,497.5 C1015,498 1012,505 1011.5,516 C1010,545 1009,570 1008,608 L972,610 Z" fill="#d6f355"/>
<path d="M962.5,602 L964,596 C972,572 985,545 990,520 C994,498 1003,481 1019.5,480.5 C1036,481 1045,497 1049,508 C1058,535 1066,560 1072,582 L1073,597" fill="none" stroke="#111" stroke-width="2.2" stroke-linecap="round" stroke-linejoin="round"/>
<path d="M1008.5,605 C1009,570 1010,545 1011.5,516 C1012,505 1015,498 1018.5,497.5 C1021,497 1024,500 1026,510 C1028,530 1029,560 1029.5,605" fill="none" stroke="#111" stroke-width="2.2" stroke-linecap="round" stroke-linejoin="round"/>
<path d="M1081,493.3 L1193.5,493.3" stroke="#111" stroke-width="3.6"/>
<path d="M1048.7,493.3 L1082,482.5 L1082,505 Z" fill="#111"/>
<path d="M282.3,981.7 L277.1,987.7 L272.2,993.8 L267.7,999.9 L263.5,1006.1 L259.7,1012.3 L256.3,1018.6 L253.1,1024.9 L250.4,1031.2 L248.0,1037.7 L245.9,1044.1 L244.2,1050.6 L242.8,1057.2 L241.8,1063.7 L241.2,1070.4 L240.9,1077.0 L241.0,1083.7 L251.0,1083.3 L250.9,1077.2 L251.2,1071.0 L251.8,1065.0 L252.7,1058.9 L253.9,1052.9 L255.5,1046.9 L257.4,1040.9 L259.6,1035.0 L262.2,1029.1 L265.1,1023.2 L268.4,1017.3 L272.0,1011.5 L275.9,1005.7 L280.2,999.9 L284.8,994.1 L289.7,988.3 Z" fill="#d6f355" stroke="#111" stroke-width="1.7" stroke-linejoin="round"/>
<path d="M388.7,991.4 L394.1,996.8 L399.2,1002.2 L403.8,1007.7 L408.0,1013.1 L411.8,1018.6 L415.2,1024.1 L418.3,1029.6 L420.9,1035.2 L423.2,1040.7 L425.0,1046.3 L426.5,1051.9 L427.6,1057.6 L428.4,1063.2 L428.7,1069.0 L428.7,1074.7 L428.3,1080.5 L437.7,1081.5 L438.2,1075.1 L438.2,1068.7 L437.8,1062.4 L437.0,1056.1 L435.8,1049.8 L434.1,1043.6 L432.1,1037.4 L429.6,1031.3 L426.7,1025.3 L423.4,1019.3 L419.7,1013.4 L415.6,1007.5 L411.1,1001.7 L406.3,995.9 L401.0,990.2 L395.3,984.6 Z" fill="#d6f355" stroke="#111" stroke-width="1.7" stroke-linejoin="round"/>
<path d="M290.5,969.9 L287.1,977.2 L283.9,984.7 L280.7,992.2 L277.7,999.7 L274.7,1007.4 L271.9,1015.1 L269.2,1022.9 L266.6,1030.7 L264.1,1038.6 L261.6,1046.6 L259.3,1054.7 L257.1,1062.8 L255.1,1071.0 L253.1,1079.3 L251.2,1087.6 L249.4,1096.0 L259.2,1098.0 L260.9,1089.7 L262.8,1081.5 L264.8,1073.4 L266.8,1065.3 L269.0,1057.3 L271.2,1049.4 L273.6,1041.6 L276.1,1033.8 L278.7,1026.1 L281.3,1018.5 L284.1,1010.9 L287.0,1003.4 L290.0,996.0 L293.1,988.6 L296.2,981.3 L299.5,974.1 Z" fill="#d6f355" stroke="#111" stroke-width="1.7" stroke-linejoin="round"/>
<path d="M295.3,968.3 L292.3,976.5 L289.5,984.7 L286.8,992.9 L284.2,1001.2 L281.7,1009.5 L279.4,1017.8 L277.2,1026.1 L275.1,1034.4 L273.1,1042.8 L271.3,1051.2 L269.6,1059.6 L268.0,1068.0 L266.5,1076.5 L265.2,1084.9 L263.9,1093.4 L262.8,1101.9 L272.8,1103.1 L273.8,1094.7 L275.0,1086.4 L276.4,1078.1 L277.8,1069.8 L279.4,1061.5 L281.1,1053.3 L282.9,1045.0 L284.8,1036.8 L286.9,1028.6 L289.0,1020.4 L291.3,1012.3 L293.8,1004.1 L296.3,996.0 L299.0,987.9 L301.8,979.8 L304.7,971.7 Z" fill="#d6f355" stroke="#111" stroke-width="1.7" stroke-linejoin="round"/>
<path d="M301.2,966.6 L298.9,975.0 L296.6,983.4 L294.5,991.7 L292.4,1000.0 L290.5,1008.2 L288.6,1016.4 L286.8,1024.6 L285.2,1032.7 L283.6,1040.8 L282.1,1048.8 L280.8,1056.8 L279.5,1064.8 L278.3,1072.7 L277.2,1080.5 L276.2,1088.4 L275.3,1096.2 L285.3,1097.2 L286.1,1089.6 L287.1,1081.8 L288.2,1074.1 L289.4,1066.3 L290.6,1058.4 L292.0,1050.6 L293.4,1042.6 L295.0,1034.7 L296.6,1026.6 L298.4,1018.6 L300.2,1010.5 L302.1,1002.3 L304.2,994.2 L306.3,985.9 L308.5,977.7 L310.8,969.4 Z" fill="#d6f355" stroke="#111" stroke-width="1.7" stroke-linejoin="round"/>
<path d="M376.0,972.4 L379.6,979.8 L383.0,987.3 L386.2,994.9 L389.3,1002.5 L392.3,1010.1 L395.2,1017.9 L397.9,1025.6 L400.5,1033.4 L403.0,1041.3 L405.3,1049.2 L407.5,1057.2 L409.6,1065.3 L411.5,1073.4 L413.4,1081.5 L415.0,1089.7 L416.6,1098.0 L427.4,1096.0 L425.8,1087.6 L424.1,1079.2 L422.3,1070.9 L420.3,1062.6 L418.2,1054.4 L415.9,1046.2 L413.5,1038.1 L411.0,1030.1 L408.3,1022.1 L405.5,1014.1 L402.6,1006.2 L399.5,998.4 L396.3,990.6 L393.0,982.9 L389.6,975.2 L386.0,967.6 Z" fill="#d6f355" stroke="#111" stroke-width="1.7" stroke-linejoin="round"/>
<path d="M373.2,971.5 L375.7,979.6 L378.0,987.7 L380.4,995.8 L382.6,1004.0 L384.8,1012.2 L386.8,1020.5 L388.9,1028.7 L390.8,1037.0 L392.7,1045.3 L394.5,1053.7 L396.2,1062.0 L397.9,1070.4 L399.4,1078.8 L401.0,1087.3 L402.4,1095.8 L403.8,1104.3 L413.6,1102.7 L412.3,1094.1 L410.8,1085.6 L409.3,1077.0 L407.7,1068.5 L406.0,1060.0 L404.3,1051.6 L402.4,1043.2 L400.5,1034.8 L398.6,1026.4 L396.5,1018.0 L394.4,1009.7 L392.2,1001.4 L390.0,993.2 L387.7,984.9 L385.3,976.7 L382.8,968.5 Z" fill="#d6f355" stroke="#111" stroke-width="1.7" stroke-linejoin="round"/>
<path d="M370.1,969.0 L371.7,977.3 L373.2,985.6 L374.8,993.8 L376.2,1002.0 L377.6,1010.1 L379.0,1018.2 L380.3,1026.3 L381.6,1034.3 L382.9,1042.2 L384.1,1050.1 L385.2,1058.0 L386.3,1065.8 L387.4,1073.6 L388.4,1081.3 L389.4,1089.0 L390.3,1096.6 L400.3,1095.4 L399.3,1087.7 L398.3,1080.0 L397.3,1072.2 L396.2,1064.4 L395.1,1056.6 L394.0,1048.7 L392.8,1040.7 L391.5,1032.7 L390.2,1024.7 L388.9,1016.6 L387.5,1008.4 L386.1,1000.3 L384.6,992.0 L383.1,983.7 L381.5,975.4 L379.9,967.0 Z" fill="#d6f355" stroke="#111" stroke-width="1.7" stroke-linejoin="round"/>
<path d="M365.0,966.4 L365.6,974.4 L366.2,982.3 L366.8,990.3 L367.4,998.2 L368.0,1006.1 L368.6,1014.0 L369.1,1021.9 L369.7,1029.8 L370.2,1037.6 L370.7,1045.5 L371.2,1053.3 L371.7,1061.1 L372.2,1068.9 L372.7,1076.6 L373.2,1084.4 L373.6,1092.1 L383.6,1091.5 L383.1,1083.8 L382.7,1076.0 L382.2,1068.2 L381.7,1060.4 L381.2,1052.6 L380.7,1044.8 L380.2,1037.0 L379.6,1029.1 L379.1,1021.2 L378.5,1013.3 L378.0,1005.4 L377.4,997.5 L376.8,989.6 L376.2,981.6 L375.6,973.6 L375.0,965.6 Z" fill="#d6f355" stroke="#111" stroke-width="1.7" stroke-linejoin="round"/>
<path d="M307.1,963.0 L305.4,971.3 L303.8,979.5 L302.2,987.8 L300.8,996.0 L299.4,1004.2 L298.2,1012.4 L297.0,1020.6 L295.9,1028.7 L294.9,1036.9 L294.0,1045.0 L293.2,1053.1 L292.4,1061.2 L291.8,1069.2 L291.2,1077.3 L290.8,1085.3 L290.4,1093.3 L300.4,1093.7 L300.8,1085.8 L301.2,1077.9 L301.8,1070.0 L302.4,1062.0 L303.1,1054.0 L303.9,1046.1 L304.8,1038.0 L305.8,1030.0 L306.9,1022.0 L308.0,1013.9 L309.3,1005.8 L310.6,997.7 L312.1,989.6 L313.6,981.4 L315.2,973.2 L316.9,965.0 Z" fill="#d6f355" stroke="#111" stroke-width="1.7" stroke-linejoin="round"/>
<path d="M313.1,963.2 L311.6,972.1 L310.2,981.0 L308.9,989.8 L307.7,998.7 L306.5,1007.5 L305.4,1016.3 L304.4,1025.1 L303.5,1033.9 L302.6,1042.6 L301.8,1051.4 L301.1,1060.1 L300.5,1068.8 L300.0,1077.4 L299.5,1086.1 L299.1,1094.7 L298.8,1103.3 L308.8,1103.7 L309.1,1095.1 L309.5,1086.6 L310.0,1078.0 L310.5,1069.4 L311.1,1060.8 L311.8,1052.2 L312.6,1043.5 L313.4,1034.9 L314.3,1026.2 L315.3,1017.5 L316.4,1008.8 L317.6,1000.0 L318.8,991.3 L320.1,982.5 L321.5,973.7 L322.9,964.8 Z" fill="#d6f355" stroke="#111" stroke-width="1.7" stroke-linejoin="round"/>
<path d="M318.5,961.5 L317.8,970.0 L317.1,978.6 L316.4,987.1 L315.8,995.6 L315.2,1004.1 L314.6,1012.6 L314.1,1021.1 L313.6,1029.6 L313.1,1038.1 L312.7,1046.6 L312.3,1055.1 L311.9,1063.6 L311.6,1072.1 L311.3,1080.6 L311.0,1089.1 L310.8,1097.6 L321.8,1097.8 L322.0,1089.4 L322.3,1081.0 L322.6,1072.5 L322.9,1064.1 L323.3,1055.6 L323.7,1047.2 L324.1,1038.7 L324.6,1030.2 L325.1,1021.8 L325.6,1013.3 L326.2,1004.8 L326.8,996.4 L327.4,987.9 L328.0,979.4 L328.7,971.0 L329.5,962.5 Z" fill="#d6f355" stroke="#111" stroke-width="1.7" stroke-linejoin="round"/>
<path d="M357.0,960.3 L357.5,969.0 L358.0,977.8 L358.5,986.6 L359.0,995.5 L359.5,1004.3 L360.0,1013.2 L360.5,1022.1 L361.1,1031.0 L361.6,1039.9 L362.1,1048.8 L362.6,1057.8 L363.1,1066.8 L363.6,1075.8 L364.2,1084.9 L364.7,1093.9 L365.2,1103.0 L375.2,1102.4 L374.7,1093.3 L374.1,1084.3 L373.6,1075.2 L373.1,1066.2 L372.6,1057.2 L372.1,1048.3 L371.6,1039.3 L371.0,1030.4 L370.5,1021.5 L370.0,1012.6 L369.5,1003.7 L369.0,994.9 L368.5,986.1 L368.0,977.3 L367.5,968.5 L367.0,959.7 Z" fill="#d6f355" stroke="#111" stroke-width="1.7" stroke-linejoin="round"/>
<path d="M348.0,958.0 L348.0,967.0 L348.1,975.9 L348.2,984.8 L348.3,993.7 L348.4,1002.4 L348.6,1011.2 L348.9,1019.8 L349.1,1028.4 L349.4,1037.0 L349.8,1045.5 L350.1,1054.0 L350.5,1062.4 L351.0,1070.7 L351.5,1079.0 L352.0,1087.2 L352.5,1095.4 L364.5,1094.6 L363.9,1086.5 L363.4,1078.3 L363.0,1070.0 L362.5,1061.8 L362.1,1053.4 L361.8,1045.0 L361.4,1036.6 L361.1,1028.1 L360.9,1019.5 L360.6,1010.9 L360.4,1002.2 L360.3,993.5 L360.2,984.7 L360.1,975.8 L360.0,966.9 L360.0,958.0 Z" fill="#d6f355" stroke="#111" stroke-width="1.7" stroke-linejoin="round"/>
<path d="M295.8,955.9 L290.2,963.6 L284.7,971.3 L279.4,979.1 L274.2,987.0 L269.2,994.8 L264.3,1002.7 L259.6,1010.7 L255.0,1018.7 L250.6,1026.7 L246.3,1034.8 L242.1,1042.9 L238.1,1051.0 L234.3,1059.2 L230.5,1067.5 L227.0,1075.7 L223.5,1084.0 L233.3,1088.0 L236.6,1079.8 L240.1,1071.7 L243.8,1063.6 L247.6,1055.6 L251.5,1047.6 L255.6,1039.6 L259.8,1031.7 L264.2,1023.8 L268.7,1016.0 L273.3,1008.2 L278.1,1000.4 L283.1,992.7 L288.1,985.0 L293.4,977.3 L298.7,969.7 L304.2,962.1 Z" fill="#d6f355" stroke="#111" stroke-width="1.7" stroke-linejoin="round"/>
<path d="M372.2,964.3 L378.0,971.2 L383.7,978.3 L389.2,985.4 L394.6,992.7 L399.7,1000.0 L404.7,1007.4 L409.5,1014.9 L414.2,1022.6 L418.6,1030.3 L422.9,1038.1 L427.1,1045.9 L431.0,1053.9 L434.8,1062.0 L438.4,1070.2 L441.9,1078.4 L445.1,1086.8 L454.5,1083.2 L451.1,1074.7 L447.6,1066.2 L443.9,1057.8 L440.0,1049.6 L436.0,1041.4 L431.7,1033.3 L427.3,1025.3 L422.7,1017.4 L418.0,1009.6 L413.1,1001.9 L408.0,994.3 L402.7,986.8 L397.2,979.4 L391.6,972.1 L385.8,964.9 L379.8,957.7 Z" fill="#d6f355" stroke="#111" stroke-width="1.7" stroke-linejoin="round"/>
<path d="M320.5,905 L341.5,906.7 C342.5,915 343,925 342,932 C341,937 339.5,940 338.4,942 C336,948 332,953 331,960 L326,972 L296,976 L287,970.4 C296,957 300,950 302.1,946.9 C305,935 309,925 320.5,905 Z" fill="#d6f355"/>
<path d="M340,906.7 L356.8,906.7 C362,918 366,928 368.5,933.5 C372,942 376,950 378.6,957 L384,968 L376,974 L348,968 L345,950 C343,948 340,946 338.4,942 C340,937 342,932 342.6,925 Z" fill="#d6f355"/>
<path d="M320.5,905 C313,915 309,925 306,935 C303,946 298,956 287,970.4" fill="none" stroke="#111" stroke-width="2.0" stroke-linecap="round" stroke-linejoin="round"/>
<path d="M356.8,906.7 C362,918 366,928 368.5,933.5 C372,942 376,950 378.6,957 L384,967" fill="none" stroke="#111" stroke-width="2.0" stroke-linecap="round" stroke-linejoin="round"/>
<path d="M341.5,906.7 C342.5,915 343,925 342,932 C341,937 339.5,940 338.4,942 C336,948 332,953 330,958" fill="none" stroke="#111" stroke-width="1.8" stroke-linecap="round" stroke-linejoin="round"/>
<path d="M338.4,942 C340,946 343,948 345,948.6 L346.5,956" fill="none" stroke="#111" stroke-width="1.8" stroke-linecap="round" stroke-linejoin="round"/>
<path d="M321,880 C317,870 318,858 323.3,848.5 C327,843 332,840.4 338.3,840.4 C345,840.4 351,843 354,847 C358,853 359,865 355,880 Z" fill="#d6f355" stroke="#111" stroke-width="2.4"/>
<path d="M339.4,856 C336,857 334.5,862 334.8,867 C335,872 335.5,876 336,879 L346,879 C346.5,874 346.5,868 345,862 C344,858 342,856 339.4,856 Z" fill="#fff" stroke="#111" stroke-width="2.2"/>
<path d="M354.5,879.7 L421.5,884.3 L418,904 L354.5,905.1 Z" fill="#d6f355" stroke="#111" stroke-width="2.2"/>
<path d="M321,879.7 L354.5,879.7 L355.6,906 L321.5,906 Z" fill="#d6f355" stroke="#111" stroke-width="2.2"/>
<path d="M845.7,985.4 L843.5,992.6 L841.3,999.6 L838.9,1006.4 L836.4,1013.0 L833.9,1019.5 L831.2,1025.7 L828.3,1031.7 L825.4,1037.6 L822.4,1043.2 L819.2,1048.7 L816.0,1054.0 L812.6,1059.0 L809.1,1063.9 L805.6,1068.6 L801.9,1073.1 L798.1,1077.4 L803.9,1082.6 L807.8,1078.0 L811.5,1073.1 L815.0,1068.1 L818.5,1063.0 L821.8,1057.6 L825.0,1052.0 L828.1,1046.3 L831.1,1040.4 L833.9,1034.3 L836.6,1028.1 L839.2,1021.6 L841.7,1015.0 L844.0,1008.2 L846.2,1001.2 L848.3,994.0 L850.3,986.6 Z" fill="#d6f355" stroke="#111" stroke-width="1.5" stroke-linejoin="round"/>
<path d="M876.8,989.0 L879.6,995.4 L882.4,1001.6 L885.1,1007.6 L887.8,1013.4 L890.6,1018.9 L893.3,1024.3 L896.0,1029.4 L898.6,1034.2 L901.3,1038.9 L903.9,1043.3 L906.5,1047.5 L909.2,1051.4 L911.8,1055.2 L914.3,1058.7 L916.9,1062.0 L919.5,1065.1 L925.3,1059.9 L922.7,1057.1 L920.2,1054.1 L917.6,1050.9 L914.9,1047.4 L912.3,1043.6 L909.6,1039.7 L906.8,1035.5 L904.1,1031.0 L901.3,1026.4 L898.5,1021.4 L895.7,1016.3 L892.8,1010.9 L890.0,1005.3 L887.1,999.4 L884.1,993.3 L881.2,987.0 Z" fill="#d6f355" stroke="#111" stroke-width="1.5" stroke-linejoin="round"/>
<path d="M852.7,981.7 L851.5,989.5 L850.3,997.1 L849.2,1004.6 L848.1,1012.0 L847.0,1019.2 L846.0,1026.3 L845.0,1033.3 L844.0,1040.1 L843.0,1046.8 L842.1,1053.3 L841.2,1059.7 L840.4,1066.0 L839.6,1072.1 L838.8,1078.1 L838.0,1083.9 L837.3,1089.6 L844.7,1090.4 L845.3,1084.7 L845.9,1078.9 L846.5,1072.9 L847.1,1066.8 L847.8,1060.5 L848.5,1054.1 L849.2,1047.6 L850.0,1040.9 L850.8,1034.1 L851.6,1027.1 L852.5,1020.0 L853.4,1012.7 L854.3,1005.3 L855.3,997.8 L856.3,990.1 L857.3,982.3 Z" fill="#d6f355" stroke="#111" stroke-width="1.5" stroke-linejoin="round"/>
<path d="M868.7,982.3 L869.6,990.1 L870.5,997.8 L871.4,1005.3 L872.3,1012.7 L873.2,1020.0 L874.0,1027.1 L874.9,1034.1 L875.7,1040.9 L876.6,1047.6 L877.4,1054.2 L878.3,1060.6 L879.1,1066.9 L879.9,1073.0 L880.7,1079.0 L881.5,1084.9 L882.3,1090.6 L889.7,1089.4 L888.7,1083.8 L887.8,1077.9 L886.8,1072.0 L885.8,1065.9 L884.8,1059.6 L883.8,1053.3 L882.8,1046.7 L881.8,1040.1 L880.7,1033.3 L879.7,1026.3 L878.6,1019.2 L877.6,1012.0 L876.5,1004.7 L875.5,997.1 L874.4,989.5 L873.3,981.7 Z" fill="#d6f355" stroke="#111" stroke-width="1.5" stroke-linejoin="round"/>
<path d="M847.7,985.4 L845.7,992.7 L843.6,999.8 L841.6,1006.7 L839.4,1013.6 L837.2,1020.2 L835.0,1026.8 L832.7,1033.2 L830.4,1039.4 L828.0,1045.5 L825.6,1051.5 L823.1,1057.3 L820.6,1063.0 L818.0,1068.5 L815.4,1073.9 L812.8,1079.1 L810.0,1084.2 L817.0,1087.8 L819.6,1082.5 L822.1,1077.1 L824.6,1071.5 L827.1,1065.8 L829.5,1059.9 L831.8,1054.0 L834.1,1047.8 L836.3,1041.6 L838.5,1035.2 L840.7,1028.7 L842.7,1022.0 L844.8,1015.2 L846.7,1008.2 L848.7,1001.2 L850.5,994.0 L852.3,986.6 Z" fill="#d6f355" stroke="#111" stroke-width="1.5" stroke-linejoin="round"/>
<path d="M850.1,984.6 L848.7,992.0 L847.2,999.3 L845.7,1006.5 L844.2,1013.5 L842.6,1020.5 L841.0,1027.3 L839.3,1034.0 L837.6,1040.6 L835.8,1047.1 L834.0,1053.5 L832.2,1059.7 L830.3,1065.8 L828.3,1071.9 L826.4,1077.8 L824.4,1083.5 L822.3,1089.2 L829.7,1091.8 L831.6,1086.0 L833.4,1080.0 L835.3,1074.0 L837.0,1067.9 L838.8,1061.6 L840.5,1055.2 L842.1,1048.7 L843.7,1042.1 L845.2,1035.4 L846.7,1028.6 L848.2,1021.7 L849.6,1014.7 L851.0,1007.5 L852.3,1000.3 L853.6,992.9 L854.9,985.4 Z" fill="#d6f355" stroke="#111" stroke-width="1.5" stroke-linejoin="round"/>
<path d="M853.6,982.7 L852.6,990.4 L851.6,997.9 L850.5,1005.2 L849.3,1012.4 L848.1,1019.4 L846.9,1026.3 L845.6,1033.0 L844.2,1039.6 L842.8,1046.0 L841.4,1052.2 L839.9,1058.3 L838.3,1064.3 L836.7,1070.1 L835.0,1075.7 L833.3,1081.2 L831.6,1086.5 L839.0,1088.9 L840.6,1083.4 L842.2,1077.7 L843.7,1071.9 L845.2,1066.0 L846.6,1059.9 L847.9,1053.7 L849.2,1047.3 L850.4,1040.8 L851.6,1034.1 L852.7,1027.3 L853.8,1020.3 L854.8,1013.2 L855.8,1005.9 L856.7,998.5 L857.6,991.0 L858.4,983.3 Z" fill="#d6f355" stroke="#111" stroke-width="1.5" stroke-linejoin="round"/>
<path d="M875.7,986.6 L877.6,994.0 L879.6,1001.2 L881.7,1008.2 L883.9,1015.2 L886.1,1021.9 L888.4,1028.5 L890.7,1035.0 L893.1,1041.3 L895.6,1047.4 L898.2,1053.4 L900.8,1059.3 L903.5,1065.0 L906.2,1070.6 L909.0,1076.0 L911.9,1081.2 L914.9,1086.3 L921.5,1082.3 L918.5,1077.4 L915.5,1072.4 L912.6,1067.2 L909.8,1061.8 L907.0,1056.3 L904.2,1050.7 L901.6,1044.9 L899.0,1038.9 L896.4,1032.7 L893.9,1026.4 L891.5,1020.0 L889.2,1013.4 L886.9,1006.6 L884.6,999.7 L882.4,992.6 L880.3,985.4 Z" fill="#d6f355" stroke="#111" stroke-width="1.5" stroke-linejoin="round"/>
<path d="M872.6,985.5 L874.1,992.9 L875.5,1000.3 L877.0,1007.5 L878.6,1014.6 L880.2,1021.5 L881.8,1028.3 L883.5,1035.0 L885.2,1041.5 L887.0,1047.9 L888.8,1054.2 L890.6,1060.4 L892.5,1066.4 L894.4,1072.3 L896.3,1078.0 L898.3,1083.7 L900.4,1089.1 L907.6,1086.3 L905.5,1080.9 L903.3,1075.5 L901.2,1069.9 L899.2,1064.1 L897.1,1058.3 L895.1,1052.3 L893.2,1046.1 L891.3,1039.8 L889.4,1033.4 L887.6,1026.8 L885.8,1020.1 L884.0,1013.3 L882.3,1006.3 L880.6,999.2 L879.0,991.9 L877.4,984.5 Z" fill="#d6f355" stroke="#111" stroke-width="1.5" stroke-linejoin="round"/>
<path d="M869.6,983.3 L870.5,991.0 L871.5,998.5 L872.5,1005.9 L873.6,1013.0 L874.8,1020.0 L875.9,1026.9 L877.1,1033.5 L878.4,1040.0 L879.7,1046.3 L881.1,1052.4 L882.5,1058.4 L884.0,1064.2 L885.5,1069.8 L887.1,1075.2 L888.7,1080.5 L890.3,1085.6 L897.7,1083.0 L895.9,1078.1 L894.1,1073.0 L892.4,1067.7 L890.8,1062.3 L889.2,1056.7 L887.6,1050.8 L886.1,1044.8 L884.6,1038.7 L883.2,1032.3 L881.8,1025.7 L880.4,1019.0 L879.1,1012.1 L877.9,1005.0 L876.7,997.8 L875.5,990.3 L874.4,982.7 Z" fill="#d6f355" stroke="#111" stroke-width="1.5" stroke-linejoin="round"/>
<path d="M856.6,979.8 L855.9,987.9 L855.2,995.8 L854.5,1003.5 L853.8,1011.2 L853.1,1018.6 L852.4,1026.0 L851.7,1033.2 L851.0,1040.2 L850.3,1047.2 L849.6,1053.9 L848.9,1060.6 L848.3,1067.1 L847.6,1073.4 L846.9,1079.6 L846.3,1085.7 L845.6,1091.6 L853.4,1092.4 L853.9,1086.4 L854.3,1080.3 L854.8,1074.1 L855.3,1067.7 L855.8,1061.2 L856.3,1054.5 L856.8,1047.7 L857.3,1040.8 L857.8,1033.7 L858.3,1026.5 L858.8,1019.1 L859.3,1011.6 L859.8,1004.0 L860.4,996.2 L860.9,988.2 L861.4,980.2 Z" fill="#d6f355" stroke="#111" stroke-width="1.5" stroke-linejoin="round"/>
<path d="M860.1,979.9 L859.7,987.9 L859.3,995.8 L858.9,1003.4 L858.6,1010.8 L858.3,1018.0 L857.9,1025.0 L857.6,1031.9 L857.4,1038.5 L857.1,1044.9 L856.9,1051.1 L856.6,1057.2 L856.4,1063.0 L856.2,1068.6 L856.0,1074.0 L855.9,1079.2 L855.7,1084.3 L863.5,1084.3 L863.5,1079.3 L863.4,1074.1 L863.4,1068.7 L863.5,1063.1 L863.5,1057.3 L863.5,1051.3 L863.6,1045.1 L863.7,1038.7 L863.8,1032.0 L863.9,1025.2 L864.0,1018.2 L864.2,1011.0 L864.3,1003.6 L864.5,995.9 L864.7,988.1 L864.9,980.1 Z" fill="#d6f355" stroke="#111" stroke-width="1.5" stroke-linejoin="round"/>
<path d="M863.6,980.0 L863.6,988.1 L863.7,995.9 L863.7,1003.5 L863.8,1010.9 L863.9,1018.0 L864.0,1025.0 L864.1,1031.7 L864.2,1038.3 L864.4,1044.6 L864.5,1050.7 L864.7,1056.6 L864.9,1062.3 L865.1,1067.7 L865.3,1073.0 L865.5,1078.0 L865.7,1082.9 L873.5,1082.3 L873.1,1077.6 L872.7,1072.6 L872.3,1067.3 L871.9,1061.9 L871.6,1056.3 L871.2,1050.4 L870.9,1044.3 L870.6,1038.0 L870.2,1031.5 L869.9,1024.8 L869.7,1017.9 L869.4,1010.7 L869.1,1003.4 L868.9,995.8 L868.6,988.0 L868.4,980.0 Z" fill="#d6f355" stroke="#111" stroke-width="1.5" stroke-linejoin="round"/>
<path d="M867.1,980.2 L867.6,988.2 L868.0,996.1 L868.5,1003.8 L869.0,1011.3 L869.6,1018.7 L870.1,1025.9 L870.6,1032.9 L871.2,1039.7 L871.7,1046.4 L872.3,1052.9 L872.8,1059.2 L873.4,1065.3 L874.0,1071.3 L874.6,1077.1 L875.2,1082.8 L875.8,1088.2 L883.6,1087.2 L882.8,1081.8 L882.0,1076.2 L881.2,1070.5 L880.4,1064.6 L879.7,1058.5 L878.9,1052.2 L878.2,1045.7 L877.4,1039.1 L876.7,1032.3 L876.0,1025.4 L875.3,1018.2 L874.6,1010.9 L873.9,1003.4 L873.2,995.7 L872.6,987.9 L871.9,979.8 Z" fill="#d6f355" stroke="#111" stroke-width="1.5" stroke-linejoin="round"/>
<path d="M847.0,981.2 L844.4,988.2 L841.6,995.1 L838.7,1001.9 L835.6,1008.5 L832.3,1014.9 L828.8,1021.2 L825.2,1027.3 L821.4,1033.3 L817.4,1039.1 L813.2,1044.7 L808.9,1050.2 L804.4,1055.5 L799.7,1060.7 L794.9,1065.8 L789.8,1070.6 L784.6,1075.4 L790.4,1081.6 L795.6,1076.6 L800.7,1071.4 L805.6,1066.0 L810.2,1060.5 L814.8,1054.9 L819.1,1049.0 L823.2,1043.1 L827.1,1037.0 L830.9,1030.7 L834.5,1024.3 L837.9,1017.8 L841.1,1011.1 L844.1,1004.2 L846.9,997.3 L849.5,990.1 L852.0,982.8 Z" fill="#d6f355" stroke="#111" stroke-width="1.5" stroke-linejoin="round"/>
<path d="M857,951 L871,951 C873,960 875,966 876.2,970.7 C878,975 880,979 882.4,982 C884.5,986 885,988 886,991 L878,993 L850,993 L840,991 C841.5,987 843.5,983 845.5,978 C846,976 847,973 849,968 C850,966 853,960 857,951 Z" fill="#d6f355"/>
<path d="M857,952 C853,960 850,966 849,968 C847,973 846,976 845.5,978 C843.5,983 842,986 840.5,989" fill="none" stroke="#111" stroke-width="1.7" stroke-linecap="round" stroke-linejoin="round"/>
<path d="M870,952 C873,960 875,966 876.2,970.7 C878,975 880,979 882.4,982 C884.5,986 885.5,988 886,990" fill="none" stroke="#111" stroke-width="1.7" stroke-linecap="round" stroke-linejoin="round"/>
<path d="M855.5,979 L858.5,980.5 L859,990" fill="none" stroke="#111" stroke-width="1.4" stroke-linecap="round" stroke-linejoin="round"/>
<path d="M855.6,936 C854.5,928 854,920 854.7,914 C855.5,906 860,898.3 866.6,898.3 C872,898.3 876,904 875.8,913 C875.5,922 873,930 871.4,936 Z" fill="#d6f355" stroke="#111" stroke-width="2.1"/>
<path d="M864.8,910.6 C862.5,911 861.8,916 861.8,921 C861.8,927 863.5,932 865.7,934.7 C867,931 869.2,922 869.2,916.3 C869.2,912.5 867,910.6 864.8,910.6 Z" fill="#fff" stroke="#111" stroke-width="1.7"/>
<rect x="855.2" y="936" width="16.6" height="15.4" fill="#d6f355" stroke="#111" stroke-width="2.2"/>
<path d="M968.2,985.4 L966.0,992.6 L963.8,999.6 L961.4,1006.4 L958.9,1013.0 L956.4,1019.5 L953.7,1025.7 L950.8,1031.7 L947.9,1037.6 L944.9,1043.2 L941.7,1048.7 L938.5,1054.0 L935.1,1059.0 L931.6,1063.9 L928.1,1068.6 L924.4,1073.1 L920.6,1077.4 L926.4,1082.6 L930.3,1078.0 L934.0,1073.1 L937.5,1068.1 L941.0,1063.0 L944.3,1057.6 L947.5,1052.0 L950.6,1046.3 L953.6,1040.4 L956.4,1034.3 L959.1,1028.1 L961.7,1021.6 L964.2,1015.0 L966.5,1008.2 L968.7,1001.2 L970.8,994.0 L972.8,986.6 Z" fill="#d6f355" stroke="#111" stroke-width="1.5" stroke-linejoin="round"/>
<path d="M999.3,989.0 L1002.1,995.4 L1004.9,1001.6 L1007.6,1007.6 L1010.3,1013.4 L1013.1,1018.9 L1015.8,1024.3 L1018.5,1029.4 L1021.1,1034.2 L1023.8,1038.9 L1026.4,1043.3 L1029.0,1047.5 L1031.7,1051.4 L1034.3,1055.2 L1036.8,1058.7 L1039.4,1062.0 L1042.0,1065.1 L1047.8,1059.9 L1045.2,1057.1 L1042.7,1054.1 L1040.1,1050.9 L1037.4,1047.4 L1034.8,1043.6 L1032.1,1039.7 L1029.3,1035.5 L1026.6,1031.0 L1023.8,1026.4 L1021.0,1021.4 L1018.2,1016.3 L1015.3,1010.9 L1012.5,1005.3 L1009.6,999.4 L1006.6,993.3 L1003.7,987.0 Z" fill="#d6f355" stroke="#111" stroke-width="1.5" stroke-linejoin="round"/>
<path d="M975.2,981.7 L974.0,989.5 L972.8,997.1 L971.7,1004.6 L970.6,1012.0 L969.5,1019.2 L968.5,1026.3 L967.5,1033.3 L966.5,1040.1 L965.5,1046.8 L964.6,1053.3 L963.7,1059.7 L962.9,1066.0 L962.1,1072.1 L961.3,1078.1 L960.5,1083.9 L959.8,1089.6 L967.2,1090.4 L967.8,1084.7 L968.4,1078.9 L969.0,1072.9 L969.6,1066.8 L970.3,1060.5 L971.0,1054.1 L971.7,1047.6 L972.5,1040.9 L973.3,1034.1 L974.1,1027.1 L975.0,1020.0 L975.9,1012.7 L976.8,1005.3 L977.8,997.8 L978.8,990.1 L979.8,982.3 Z" fill="#d6f355" stroke="#111" stroke-width="1.5" stroke-linejoin="round"/>
<path d="M991.2,982.3 L992.1,990.1 L993.0,997.8 L993.9,1005.3 L994.8,1012.7 L995.7,1020.0 L996.5,1027.1 L997.4,1034.1 L998.2,1040.9 L999.1,1047.6 L999.9,1054.2 L1000.8,1060.6 L1001.6,1066.9 L1002.4,1073.0 L1003.2,1079.0 L1004.0,1084.9 L1004.8,1090.6 L1012.2,1089.4 L1011.2,1083.8 L1010.3,1077.9 L1009.3,1072.0 L1008.3,1065.9 L1007.3,1059.6 L1006.3,1053.3 L1005.3,1046.7 L1004.3,1040.1 L1003.2,1033.3 L1002.2,1026.3 L1001.1,1019.2 L1000.1,1012.0 L999.0,1004.7 L998.0,997.1 L996.9,989.5 L995.8,981.7 Z" fill="#d6f355" stroke="#111" stroke-width="1.5" stroke-linejoin="round"/>
<path d="M970.2,985.4 L968.2,992.7 L966.1,999.8 L964.1,1006.7 L961.9,1013.6 L959.7,1020.2 L957.5,1026.8 L955.2,1033.2 L952.9,1039.4 L950.5,1045.5 L948.1,1051.5 L945.6,1057.3 L943.1,1063.0 L940.5,1068.5 L937.9,1073.9 L935.3,1079.1 L932.5,1084.2 L939.5,1087.8 L942.1,1082.5 L944.6,1077.1 L947.1,1071.5 L949.6,1065.8 L952.0,1059.9 L954.3,1054.0 L956.6,1047.8 L958.8,1041.6 L961.0,1035.2 L963.2,1028.7 L965.2,1022.0 L967.3,1015.2 L969.2,1008.2 L971.2,1001.2 L973.0,994.0 L974.8,986.6 Z" fill="#d6f355" stroke="#111" stroke-width="1.5" stroke-linejoin="round"/>
<path d="M972.6,984.6 L971.2,992.0 L969.7,999.3 L968.2,1006.5 L966.7,1013.5 L965.1,1020.5 L963.5,1027.3 L961.8,1034.0 L960.1,1040.6 L958.3,1047.1 L956.5,1053.5 L954.7,1059.7 L952.8,1065.8 L950.8,1071.9 L948.9,1077.8 L946.9,1083.5 L944.8,1089.2 L952.2,1091.8 L954.1,1086.0 L955.9,1080.0 L957.8,1074.0 L959.5,1067.9 L961.3,1061.6 L963.0,1055.2 L964.6,1048.7 L966.2,1042.1 L967.7,1035.4 L969.2,1028.6 L970.7,1021.7 L972.1,1014.7 L973.5,1007.5 L974.8,1000.3 L976.1,992.9 L977.4,985.4 Z" fill="#d6f355" stroke="#111" stroke-width="1.5" stroke-linejoin="round"/>
<path d="M976.1,982.7 L975.1,990.4 L974.1,997.9 L973.0,1005.2 L971.8,1012.4 L970.6,1019.4 L969.4,1026.3 L968.1,1033.0 L966.7,1039.6 L965.3,1046.0 L963.9,1052.2 L962.4,1058.3 L960.8,1064.3 L959.2,1070.1 L957.5,1075.7 L955.8,1081.2 L954.1,1086.5 L961.5,1088.9 L963.1,1083.4 L964.7,1077.7 L966.2,1071.9 L967.7,1066.0 L969.1,1059.9 L970.4,1053.7 L971.7,1047.3 L972.9,1040.8 L974.1,1034.1 L975.2,1027.3 L976.3,1020.3 L977.3,1013.2 L978.3,1005.9 L979.2,998.5 L980.1,991.0 L980.9,983.3 Z" fill="#d6f355" stroke="#111" stroke-width="1.5" stroke-linejoin="round"/>
<path d="M998.2,986.6 L1000.1,994.0 L1002.1,1001.2 L1004.2,1008.2 L1006.4,1015.2 L1008.6,1021.9 L1010.9,1028.5 L1013.2,1035.0 L1015.6,1041.3 L1018.1,1047.4 L1020.7,1053.4 L1023.3,1059.3 L1026.0,1065.0 L1028.7,1070.6 L1031.5,1076.0 L1034.4,1081.2 L1037.4,1086.3 L1044.0,1082.3 L1041.0,1077.4 L1038.0,1072.4 L1035.1,1067.2 L1032.3,1061.8 L1029.5,1056.3 L1026.7,1050.7 L1024.1,1044.9 L1021.5,1038.9 L1018.9,1032.7 L1016.4,1026.4 L1014.0,1020.0 L1011.7,1013.4 L1009.4,1006.6 L1007.1,999.7 L1004.9,992.6 L1002.8,985.4 Z" fill="#d6f355" stroke="#111" stroke-width="1.5" stroke-linejoin="round"/>
<path d="M995.1,985.5 L996.6,992.9 L998.0,1000.3 L999.5,1007.5 L1001.1,1014.6 L1002.7,1021.5 L1004.3,1028.3 L1006.0,1035.0 L1007.7,1041.5 L1009.5,1047.9 L1011.3,1054.2 L1013.1,1060.4 L1015.0,1066.4 L1016.9,1072.3 L1018.8,1078.0 L1020.8,1083.7 L1022.9,1089.1 L1030.1,1086.3 L1028.0,1080.9 L1025.8,1075.5 L1023.7,1069.9 L1021.7,1064.1 L1019.6,1058.3 L1017.6,1052.3 L1015.7,1046.1 L1013.8,1039.8 L1011.9,1033.4 L1010.1,1026.8 L1008.3,1020.1 L1006.5,1013.3 L1004.8,1006.3 L1003.1,999.2 L1001.5,991.9 L999.9,984.5 Z" fill="#d6f355" stroke="#111" stroke-width="1.5" stroke-linejoin="round"/>
<path d="M992.1,983.3 L993.0,991.0 L994.0,998.5 L995.0,1005.9 L996.1,1013.0 L997.3,1020.0 L998.4,1026.9 L999.6,1033.5 L1000.9,1040.0 L1002.2,1046.3 L1003.6,1052.4 L1005.0,1058.4 L1006.5,1064.2 L1008.0,1069.8 L1009.6,1075.2 L1011.2,1080.5 L1012.8,1085.6 L1020.2,1083.0 L1018.4,1078.1 L1016.6,1073.0 L1014.9,1067.7 L1013.3,1062.3 L1011.7,1056.7 L1010.1,1050.8 L1008.6,1044.8 L1007.1,1038.7 L1005.7,1032.3 L1004.3,1025.7 L1002.9,1019.0 L1001.6,1012.1 L1000.4,1005.0 L999.2,997.8 L998.0,990.3 L996.9,982.7 Z" fill="#d6f355" stroke="#111" stroke-width="1.5" stroke-linejoin="round"/>
<path d="M979.1,979.8 L978.4,987.9 L977.7,995.8 L977.0,1003.5 L976.3,1011.2 L975.6,1018.6 L974.9,1026.0 L974.2,1033.2 L973.5,1040.2 L972.8,1047.2 L972.1,1053.9 L971.4,1060.6 L970.8,1067.1 L970.1,1073.4 L969.4,1079.6 L968.8,1085.7 L968.1,1091.6 L975.9,1092.4 L976.4,1086.4 L976.8,1080.3 L977.3,1074.1 L977.8,1067.7 L978.3,1061.2 L978.8,1054.5 L979.3,1047.7 L979.8,1040.8 L980.3,1033.7 L980.8,1026.5 L981.3,1019.1 L981.8,1011.6 L982.3,1004.0 L982.9,996.2 L983.4,988.2 L983.9,980.2 Z" fill="#d6f355" stroke="#111" stroke-width="1.5" stroke-linejoin="round"/>
<path d="M982.6,979.9 L982.2,987.9 L981.8,995.8 L981.4,1003.4 L981.1,1010.8 L980.8,1018.0 L980.4,1025.0 L980.1,1031.9 L979.9,1038.5 L979.6,1044.9 L979.4,1051.1 L979.1,1057.2 L978.9,1063.0 L978.7,1068.6 L978.5,1074.0 L978.4,1079.2 L978.2,1084.3 L986.0,1084.3 L986.0,1079.3 L985.9,1074.1 L985.9,1068.7 L986.0,1063.1 L986.0,1057.3 L986.0,1051.3 L986.1,1045.1 L986.2,1038.7 L986.3,1032.0 L986.4,1025.2 L986.5,1018.2 L986.7,1011.0 L986.8,1003.6 L987.0,995.9 L987.2,988.1 L987.4,980.1 Z" fill="#d6f355" stroke="#111" stroke-width="1.5" stroke-linejoin="round"/>
<path d="M986.1,980.0 L986.1,988.1 L986.2,995.9 L986.2,1003.5 L986.3,1010.9 L986.4,1018.0 L986.5,1025.0 L986.6,1031.7 L986.7,1038.3 L986.9,1044.6 L987.0,1050.7 L987.2,1056.6 L987.4,1062.3 L987.6,1067.7 L987.8,1073.0 L988.0,1078.0 L988.2,1082.9 L996.0,1082.3 L995.6,1077.6 L995.2,1072.6 L994.8,1067.3 L994.4,1061.9 L994.1,1056.3 L993.7,1050.4 L993.4,1044.3 L993.1,1038.0 L992.7,1031.5 L992.4,1024.8 L992.2,1017.9 L991.9,1010.7 L991.6,1003.4 L991.4,995.8 L991.1,988.0 L990.9,980.0 Z" fill="#d6f355" stroke="#111" stroke-width="1.5" stroke-linejoin="round"/>
<path d="M989.6,980.2 L990.1,988.2 L990.5,996.1 L991.0,1003.8 L991.5,1011.3 L992.1,1018.7 L992.6,1025.9 L993.1,1032.9 L993.7,1039.7 L994.2,1046.4 L994.8,1052.9 L995.3,1059.2 L995.9,1065.3 L996.5,1071.3 L997.1,1077.1 L997.7,1082.8 L998.3,1088.2 L1006.1,1087.2 L1005.3,1081.8 L1004.5,1076.2 L1003.7,1070.5 L1002.9,1064.6 L1002.2,1058.5 L1001.4,1052.2 L1000.7,1045.7 L999.9,1039.1 L999.2,1032.3 L998.5,1025.4 L997.8,1018.2 L997.1,1010.9 L996.4,1003.4 L995.7,995.7 L995.1,987.9 L994.4,979.8 Z" fill="#d6f355" stroke="#111" stroke-width="1.5" stroke-linejoin="round"/>
<path d="M969.5,981.2 L966.9,988.2 L964.1,995.1 L961.2,1001.9 L958.1,1008.5 L954.8,1014.9 L951.3,1021.2 L947.7,1027.3 L943.9,1033.3 L939.9,1039.1 L935.7,1044.7 L931.4,1050.2 L926.9,1055.5 L922.2,1060.7 L917.4,1065.8 L912.3,1070.6 L907.1,1075.4 L912.9,1081.6 L918.1,1076.6 L923.2,1071.4 L928.1,1066.0 L932.7,1060.5 L937.3,1054.9 L941.6,1049.0 L945.7,1043.1 L949.6,1037.0 L953.4,1030.7 L957.0,1024.3 L960.4,1017.8 L963.6,1011.1 L966.6,1004.2 L969.4,997.3 L972.0,990.1 L974.5,982.8 Z" fill="#d6f355" stroke="#111" stroke-width="1.5" stroke-linejoin="round"/>
<path d="M979.5,951 L993.5,951 C995.5,960 997.5,966 998.7,970.7 C1000.5,975 1002.5,979 1004.9,982 C1007.0,986 1007.5,988 1008.5,991 L1000.5,993 L972.5,993 L962.5,991 C964.0,987 966.0,983 968.0,978 C968.5,976 969.5,973 971.5,968 C972.5,966 975.5,960 979.5,951 Z" fill="#d6f355"/>
<path d="M979.5,952 C975.5,960 972.5,966 971.5,968 C969.5,973 968.5,976 968.0,978 C966.0,983 964.5,986 963.0,989" fill="none" stroke="#111" stroke-width="1.7" stroke-linecap="round" stroke-linejoin="round"/>
<path d="M992.5,952 C995.5,960 997.5,966 998.7,970.7 C1000.5,975 1002.5,979 1004.9,982 C1007.0,986 1008.0,988 1008.5,990" fill="none" stroke="#111" stroke-width="1.7" stroke-linecap="round" stroke-linejoin="round"/>
<path d="M978.0,979 L981.0,980.5 L981.5,990" fill="none" stroke="#111" stroke-width="1.4" stroke-linecap="round" stroke-linejoin="round"/>
<path d="M978.1,936 C977.0,928 976.5,920 977.2,914 C978.0,906 982.5,898.3 989.1,898.3 C994.5,898.3 998.5,904 998.3,913 C998.0,922 995.5,930 993.9,936 Z" fill="#d6f355" stroke="#111" stroke-width="2.1"/>
<path d="M987.3,910.6 C985.0,911 984.3,916 984.3,921 C984.3,927 986.0,932 988.2,934.7 C989.5,931 991.7,922 991.7,916.3 C991.7,912.5 989.5,910.6 987.3,910.6 Z" fill="#fff" stroke="#111" stroke-width="1.7"/>
<rect x="977.7" y="936" width="16.6" height="15.4" fill="#d6f355" stroke="#111" stroke-width="2.2"/>
<path d="M1085.3,985.4 L1083.1,992.6 L1080.9,999.6 L1078.5,1006.4 L1076.0,1013.0 L1073.5,1019.5 L1070.8,1025.7 L1067.9,1031.7 L1065.0,1037.6 L1062.0,1043.2 L1058.8,1048.7 L1055.6,1054.0 L1052.2,1059.0 L1048.7,1063.9 L1045.2,1068.6 L1041.5,1073.1 L1037.7,1077.4 L1043.5,1082.6 L1047.4,1078.0 L1051.1,1073.1 L1054.6,1068.1 L1058.1,1063.0 L1061.4,1057.6 L1064.6,1052.0 L1067.7,1046.3 L1070.7,1040.4 L1073.5,1034.3 L1076.2,1028.1 L1078.8,1021.6 L1081.3,1015.0 L1083.6,1008.2 L1085.8,1001.2 L1087.9,994.0 L1089.9,986.6 Z" fill="#d6f355" stroke="#111" stroke-width="1.5" stroke-linejoin="round"/>
<path d="M1116.6,989.3 L1120.6,995.8 L1124.6,1002.1 L1128.6,1008.4 L1132.6,1014.4 L1136.6,1020.4 L1140.6,1026.2 L1144.5,1031.8 L1148.4,1037.4 L1152.3,1042.8 L1156.2,1048.0 L1160.0,1053.1 L1163.9,1058.1 L1167.7,1062.9 L1171.5,1067.6 L1175.3,1072.2 L1179.1,1076.6 L1184.9,1071.4 L1181.1,1067.2 L1177.2,1062.8 L1173.3,1058.3 L1169.4,1053.7 L1165.4,1048.9 L1161.5,1043.9 L1157.5,1038.8 L1153.5,1033.6 L1149.5,1028.3 L1145.4,1022.8 L1141.3,1017.1 L1137.2,1011.3 L1133.1,1005.4 L1129.0,999.3 L1124.8,993.1 L1120.6,986.7 Z" fill="#d6f355" stroke="#111" stroke-width="1.5" stroke-linejoin="round"/>
<path d="M1092.3,981.7 L1091.1,989.5 L1089.9,997.1 L1088.8,1004.6 L1087.7,1012.0 L1086.6,1019.2 L1085.6,1026.3 L1084.6,1033.3 L1083.6,1040.1 L1082.6,1046.8 L1081.7,1053.3 L1080.8,1059.7 L1080.0,1066.0 L1079.2,1072.1 L1078.4,1078.1 L1077.6,1083.9 L1076.9,1089.6 L1084.3,1090.4 L1084.9,1084.7 L1085.5,1078.9 L1086.1,1072.9 L1086.7,1066.8 L1087.4,1060.5 L1088.1,1054.1 L1088.8,1047.6 L1089.6,1040.9 L1090.4,1034.1 L1091.2,1027.1 L1092.1,1020.0 L1093.0,1012.7 L1093.9,1005.3 L1094.9,997.8 L1095.9,990.1 L1096.9,982.3 Z" fill="#d6f355" stroke="#111" stroke-width="1.5" stroke-linejoin="round"/>
<path d="M1108.3,982.3 L1109.2,990.1 L1110.1,997.8 L1111.0,1005.3 L1111.9,1012.7 L1112.8,1020.0 L1113.6,1027.1 L1114.5,1034.1 L1115.3,1040.9 L1116.2,1047.6 L1117.0,1054.2 L1117.9,1060.6 L1118.7,1066.9 L1119.5,1073.0 L1120.3,1079.0 L1121.1,1084.9 L1121.9,1090.6 L1129.3,1089.4 L1128.3,1083.8 L1127.4,1077.9 L1126.4,1072.0 L1125.4,1065.9 L1124.4,1059.6 L1123.4,1053.3 L1122.4,1046.7 L1121.4,1040.1 L1120.3,1033.3 L1119.3,1026.3 L1118.2,1019.2 L1117.2,1012.0 L1116.1,1004.7 L1115.1,997.1 L1114.0,989.5 L1112.9,981.7 Z" fill="#d6f355" stroke="#111" stroke-width="1.5" stroke-linejoin="round"/>
<path d="M1087.3,985.4 L1085.3,992.7 L1083.2,999.8 L1081.2,1006.7 L1079.0,1013.6 L1076.8,1020.2 L1074.6,1026.8 L1072.3,1033.2 L1070.0,1039.4 L1067.6,1045.5 L1065.2,1051.5 L1062.7,1057.3 L1060.2,1063.0 L1057.6,1068.5 L1055.0,1073.9 L1052.4,1079.1 L1049.6,1084.2 L1056.6,1087.8 L1059.2,1082.5 L1061.7,1077.1 L1064.2,1071.5 L1066.7,1065.8 L1069.1,1059.9 L1071.4,1054.0 L1073.7,1047.8 L1075.9,1041.6 L1078.1,1035.2 L1080.3,1028.7 L1082.3,1022.0 L1084.4,1015.2 L1086.3,1008.2 L1088.3,1001.2 L1090.1,994.0 L1091.9,986.6 Z" fill="#d6f355" stroke="#111" stroke-width="1.5" stroke-linejoin="round"/>
<path d="M1089.7,984.6 L1088.3,992.0 L1086.8,999.3 L1085.3,1006.5 L1083.8,1013.5 L1082.2,1020.5 L1080.6,1027.3 L1078.9,1034.0 L1077.2,1040.6 L1075.4,1047.1 L1073.6,1053.5 L1071.8,1059.7 L1069.9,1065.8 L1067.9,1071.9 L1066.0,1077.8 L1064.0,1083.5 L1061.9,1089.2 L1069.3,1091.8 L1071.2,1086.0 L1073.0,1080.0 L1074.9,1074.0 L1076.6,1067.9 L1078.4,1061.6 L1080.1,1055.2 L1081.7,1048.7 L1083.3,1042.1 L1084.8,1035.4 L1086.3,1028.6 L1087.8,1021.7 L1089.2,1014.7 L1090.6,1007.5 L1091.9,1000.3 L1093.2,992.9 L1094.5,985.4 Z" fill="#d6f355" stroke="#111" stroke-width="1.5" stroke-linejoin="round"/>
<path d="M1093.2,982.7 L1092.2,990.4 L1091.2,997.9 L1090.1,1005.2 L1088.9,1012.4 L1087.7,1019.4 L1086.5,1026.3 L1085.2,1033.0 L1083.8,1039.6 L1082.4,1046.0 L1081.0,1052.2 L1079.5,1058.3 L1077.9,1064.3 L1076.3,1070.1 L1074.6,1075.7 L1072.9,1081.2 L1071.2,1086.5 L1078.6,1088.9 L1080.2,1083.4 L1081.8,1077.7 L1083.3,1071.9 L1084.8,1066.0 L1086.2,1059.9 L1087.5,1053.7 L1088.8,1047.3 L1090.0,1040.8 L1091.2,1034.1 L1092.3,1027.3 L1093.4,1020.3 L1094.4,1013.2 L1095.4,1005.9 L1096.3,998.5 L1097.2,991.0 L1098.0,983.3 Z" fill="#d6f355" stroke="#111" stroke-width="1.5" stroke-linejoin="round"/>
<path d="M1115.3,986.6 L1117.2,994.0 L1119.2,1001.2 L1121.3,1008.2 L1123.5,1015.2 L1125.7,1021.9 L1128.0,1028.5 L1130.3,1035.0 L1132.7,1041.3 L1135.2,1047.4 L1137.8,1053.4 L1140.4,1059.3 L1143.1,1065.0 L1145.8,1070.6 L1148.6,1076.0 L1151.5,1081.2 L1154.5,1086.3 L1161.1,1082.3 L1158.1,1077.4 L1155.1,1072.4 L1152.2,1067.2 L1149.4,1061.8 L1146.6,1056.3 L1143.8,1050.7 L1141.2,1044.9 L1138.6,1038.9 L1136.0,1032.7 L1133.5,1026.4 L1131.1,1020.0 L1128.8,1013.4 L1126.5,1006.6 L1124.2,999.7 L1122.0,992.6 L1119.9,985.4 Z" fill="#d6f355" stroke="#111" stroke-width="1.5" stroke-linejoin="round"/>
<path d="M1112.2,985.5 L1113.7,992.9 L1115.1,1000.3 L1116.6,1007.5 L1118.2,1014.6 L1119.8,1021.5 L1121.4,1028.3 L1123.1,1035.0 L1124.8,1041.5 L1126.6,1047.9 L1128.4,1054.2 L1130.2,1060.4 L1132.1,1066.4 L1134.0,1072.3 L1135.9,1078.0 L1137.9,1083.7 L1140.0,1089.1 L1147.2,1086.3 L1145.1,1080.9 L1142.9,1075.5 L1140.8,1069.9 L1138.8,1064.1 L1136.7,1058.3 L1134.7,1052.3 L1132.8,1046.1 L1130.9,1039.8 L1129.0,1033.4 L1127.2,1026.8 L1125.4,1020.1 L1123.6,1013.3 L1121.9,1006.3 L1120.2,999.2 L1118.6,991.9 L1117.0,984.5 Z" fill="#d6f355" stroke="#111" stroke-width="1.5" stroke-linejoin="round"/>
<path d="M1109.2,983.3 L1110.1,991.0 L1111.1,998.5 L1112.1,1005.9 L1113.2,1013.0 L1114.4,1020.0 L1115.5,1026.9 L1116.7,1033.5 L1118.0,1040.0 L1119.3,1046.3 L1120.7,1052.4 L1122.1,1058.4 L1123.6,1064.2 L1125.1,1069.8 L1126.7,1075.2 L1128.3,1080.5 L1129.9,1085.6 L1137.3,1083.0 L1135.5,1078.1 L1133.7,1073.0 L1132.0,1067.7 L1130.4,1062.3 L1128.8,1056.7 L1127.2,1050.8 L1125.7,1044.8 L1124.2,1038.7 L1122.8,1032.3 L1121.4,1025.7 L1120.0,1019.0 L1118.7,1012.1 L1117.5,1005.0 L1116.3,997.8 L1115.1,990.3 L1114.0,982.7 Z" fill="#d6f355" stroke="#111" stroke-width="1.5" stroke-linejoin="round"/>
<path d="M1096.2,979.8 L1095.5,987.9 L1094.8,995.8 L1094.1,1003.5 L1093.4,1011.2 L1092.7,1018.6 L1092.0,1026.0 L1091.3,1033.2 L1090.6,1040.2 L1089.9,1047.2 L1089.2,1053.9 L1088.5,1060.6 L1087.9,1067.1 L1087.2,1073.4 L1086.5,1079.6 L1085.9,1085.7 L1085.2,1091.6 L1093.0,1092.4 L1093.5,1086.4 L1093.9,1080.3 L1094.4,1074.1 L1094.9,1067.7 L1095.4,1061.2 L1095.9,1054.5 L1096.4,1047.7 L1096.9,1040.8 L1097.4,1033.7 L1097.9,1026.5 L1098.4,1019.1 L1098.9,1011.6 L1099.4,1004.0 L1100.0,996.2 L1100.5,988.2 L1101.0,980.2 Z" fill="#d6f355" stroke="#111" stroke-width="1.5" stroke-linejoin="round"/>
<path d="M1099.7,979.9 L1099.3,987.9 L1098.9,995.8 L1098.5,1003.4 L1098.2,1010.8 L1097.9,1018.0 L1097.5,1025.0 L1097.2,1031.9 L1097.0,1038.5 L1096.7,1044.9 L1096.5,1051.1 L1096.2,1057.2 L1096.0,1063.0 L1095.8,1068.6 L1095.6,1074.0 L1095.5,1079.2 L1095.3,1084.3 L1103.1,1084.3 L1103.1,1079.3 L1103.0,1074.1 L1103.0,1068.7 L1103.1,1063.1 L1103.1,1057.3 L1103.1,1051.3 L1103.2,1045.1 L1103.3,1038.7 L1103.4,1032.0 L1103.5,1025.2 L1103.6,1018.2 L1103.8,1011.0 L1103.9,1003.6 L1104.1,995.9 L1104.3,988.1 L1104.5,980.1 Z" fill="#d6f355" stroke="#111" stroke-width="1.5" stroke-linejoin="round"/>
<path d="M1103.2,980.0 L1103.2,988.1 L1103.3,995.9 L1103.3,1003.5 L1103.4,1010.9 L1103.5,1018.0 L1103.6,1025.0 L1103.7,1031.7 L1103.8,1038.3 L1104.0,1044.6 L1104.1,1050.7 L1104.3,1056.6 L1104.5,1062.3 L1104.7,1067.7 L1104.9,1073.0 L1105.1,1078.0 L1105.3,1082.9 L1113.1,1082.3 L1112.7,1077.6 L1112.3,1072.6 L1111.9,1067.3 L1111.5,1061.9 L1111.2,1056.3 L1110.8,1050.4 L1110.5,1044.3 L1110.2,1038.0 L1109.8,1031.5 L1109.5,1024.8 L1109.3,1017.9 L1109.0,1010.7 L1108.7,1003.4 L1108.5,995.8 L1108.2,988.0 L1108.0,980.0 Z" fill="#d6f355" stroke="#111" stroke-width="1.5" stroke-linejoin="round"/>
<path d="M1106.7,980.2 L1107.2,988.2 L1107.6,996.1 L1108.1,1003.8 L1108.6,1011.3 L1109.2,1018.7 L1109.7,1025.9 L1110.2,1032.9 L1110.8,1039.7 L1111.3,1046.4 L1111.9,1052.9 L1112.4,1059.2 L1113.0,1065.3 L1113.6,1071.3 L1114.2,1077.1 L1114.8,1082.8 L1115.4,1088.2 L1123.2,1087.2 L1122.4,1081.8 L1121.6,1076.2 L1120.8,1070.5 L1120.0,1064.6 L1119.3,1058.5 L1118.5,1052.2 L1117.8,1045.7 L1117.0,1039.1 L1116.3,1032.3 L1115.6,1025.4 L1114.9,1018.2 L1114.2,1010.9 L1113.5,1003.4 L1112.8,995.7 L1112.2,987.9 L1111.5,979.8 Z" fill="#d6f355" stroke="#111" stroke-width="1.5" stroke-linejoin="round"/>
<path d="M1086.6,981.2 L1084.0,988.2 L1081.2,995.1 L1078.3,1001.9 L1075.2,1008.5 L1071.9,1014.9 L1068.4,1021.2 L1064.8,1027.3 L1061.0,1033.3 L1057.0,1039.1 L1052.8,1044.7 L1048.5,1050.2 L1044.0,1055.5 L1039.3,1060.7 L1034.5,1065.8 L1029.4,1070.6 L1024.2,1075.4 L1030.0,1081.6 L1035.2,1076.6 L1040.3,1071.4 L1045.2,1066.0 L1049.8,1060.5 L1054.4,1054.9 L1058.7,1049.0 L1062.8,1043.1 L1066.7,1037.0 L1070.5,1030.7 L1074.1,1024.3 L1077.5,1017.8 L1080.7,1011.1 L1083.7,1004.2 L1086.5,997.3 L1089.1,990.1 L1091.6,982.8 Z" fill="#d6f355" stroke="#111" stroke-width="1.5" stroke-linejoin="round"/>
<path d="M1096.6,951 L1110.6,951 C1112.6,960 1114.6,966 1115.8,970.7 C1117.6,975 1119.6,979 1122.0,982 C1124.1,986 1124.6,988 1125.6,991 L1117.6,993 L1089.6,993 L1079.6,991 C1081.1,987 1083.1,983 1085.1,978 C1085.6,976 1086.6,973 1088.6,968 C1089.6,966 1092.6,960 1096.6,951 Z" fill="#d6f355"/>
<path d="M1096.6,952 C1092.6,960 1089.6,966 1088.6,968 C1086.6,973 1085.6,976 1085.1,978 C1083.1,983 1081.6,986 1080.1,989" fill="none" stroke="#111" stroke-width="1.7" stroke-linecap="round" stroke-linejoin="round"/>
<path d="M1109.6,952 C1112.6,960 1114.6,966 1115.8,970.7 C1117.6,975 1119.6,979 1122.0,982 C1124.1,986 1125.1,988 1125.6,990" fill="none" stroke="#111" stroke-width="1.7" stroke-linecap="round" stroke-linejoin="round"/>
<path d="M1095.1,979 L1098.1,980.5 L1098.6,990" fill="none" stroke="#111" stroke-width="1.4" stroke-linecap="round" stroke-linejoin="round"/>
<path d="M1095.2,936 C1094.1,928 1093.6,920 1094.3,914 C1095.1,906 1099.6,898.3 1106.2,898.3 C1111.6,898.3 1115.6,904 1115.3999999999999,913 C1115.1,922 1112.6,930 1111.0,936 Z" fill="#d6f355" stroke="#111" stroke-width="2.1"/>
<path d="M1104.3999999999999,910.6 C1102.1,911 1101.3999999999999,916 1101.3999999999999,921 C1101.3999999999999,927 1103.1,932 1105.3,934.7 C1106.6,931 1108.8,922 1108.8,916.3 C1108.8,912.5 1106.6,910.6 1104.3999999999999,910.6 Z" fill="#fff" stroke="#111" stroke-width="1.7"/>
<rect x="1094.8" y="936" width="16.6" height="15.4" fill="#d6f355" stroke="#111" stroke-width="2.2"/>
<path d="M805,911 C830,913 845,914.5 855,915.1 L876,916 C890,915.6 905,915 914,914.3 C925,915 940,916 960,917.6 C970,918.5 978,919.2 983.8,919.4 C1000,919 1015,918 1033.4,916.7 C1060,916.2 1080,916 1097.6,915.8 C1130,915 1160,914 1182,913" fill="none" stroke="#111" stroke-width="1.8" stroke-linecap="round" stroke-linejoin="round"/>
<path d="M89.5,222.4 L95,222.4 L95,277.3 L87.3,277.3 L87.3,236.5 C84,239.5 78,242.3 73.5,243.5 L73.3,236.8 C79.5,234 86,229 89.5,222.4 Z" fill="#e60012"/>
</svg>
<div class="t" style="left:220px;top:-4px;font-size:60px;letter-spacing:0px;color:#000;font-weight:700;transform:scaleX(0.911);transform-origin:0 0;">Tissue</div>
<div class="t" style="left:416px;top:-4px;font-size:60px;letter-spacing:0px;color:#000;font-weight:700;transform:scaleX(0.932);transform-origin:0 0;">Paper</div>
<div class="t" style="left:590px;top:-4px;font-size:60px;letter-spacing:0px;color:#000;font-weight:700;transform:scaleX(1.028);transform-origin:0 0;">Tassel</div>
<div class="t" style="left:790px;top:-4px;font-size:60px;letter-spacing:0px;color:#000;font-weight:700;">Usage</div>
<div class="t" style="left:988px;top:-4px;font-size:60px;letter-spacing:0px;color:#000;font-weight:700;transform:scaleX(0.952);transform-origin:0 0;">Steps</div>
<div class="t" style="left:0px;top:88.5px;font-size:40px;letter-spacing:0.52px;color:#cc0c1f;font-weight:400;">Notice:&nbsp;&nbsp;Each color contains 5 tassels (put together), please separate them.</div>
<div class="t" style="left:15px;top:425.5px;font-size:40px;letter-spacing:-1.33px;color:#000;font-weight:400;">Separate and unfold one piece tissue paper.</div>
<div class="t" style="left:99px;top:477px;font-size:38px;letter-spacing:-0.47px;color:#cc0c1f;font-weight:400;">(each color 5 pcs, separate them)</div>
<div class="t" style="left:821px;top:426.5px;font-size:40px;letter-spacing:-1.28px;color:#000;font-weight:400;">Lay the tissue paper flat.</div>
<div class="t" style="left:23px;top:767.5px;font-size:40px;letter-spacing:-1.38px;color:#000;font-weight:400;">Roll the middle together tightly, as shown.</div>
<div class="t" style="left:836px;top:767.5px;font-size:40px;letter-spacing:-1.29px;color:#000;font-weight:400;">Twist the middle part.</div>
<div class="t" style="left:61px;top:1159px;font-size:40px;letter-spacing:-1.4px;color:#000;font-weight:400;">Tie with our cable ties, as shown.</div>
<div class="t" style="left:756px;top:1161px;font-size:40px;letter-spacing:-1.32px;color:#000;font-weight:400;">Hang tassels with the string.</div>
<div class="t" style="left:672px;top:1209.5px;font-size:40px;letter-spacing:-1.38px;color:#000;font-weight:400;">You can move them around as you like.</div>
<div class="t" style="left:726px;top:212.5px;font-size:77px;letter-spacing:0px;color:#e60012;font-weight:400;">2</div>
<div class="t" style="left:63px;top:524px;font-size:77px;letter-spacing:0px;color:#e60012;font-weight:400;">3</div>
<div class="t" style="left:727px;top:524.5px;font-size:77px;letter-spacing:0px;color:#e60012;font-weight:400;">4</div>
<div class="t" style="left:64px;top:872.5px;font-size:77px;letter-spacing:0px;color:#e60012;font-weight:400;">5</div>
<div class="t" style="left:738px;top:872px;font-size:77px;letter-spacing:0px;color:#e60012;font-weight:400;">6</div>
</body></html>
